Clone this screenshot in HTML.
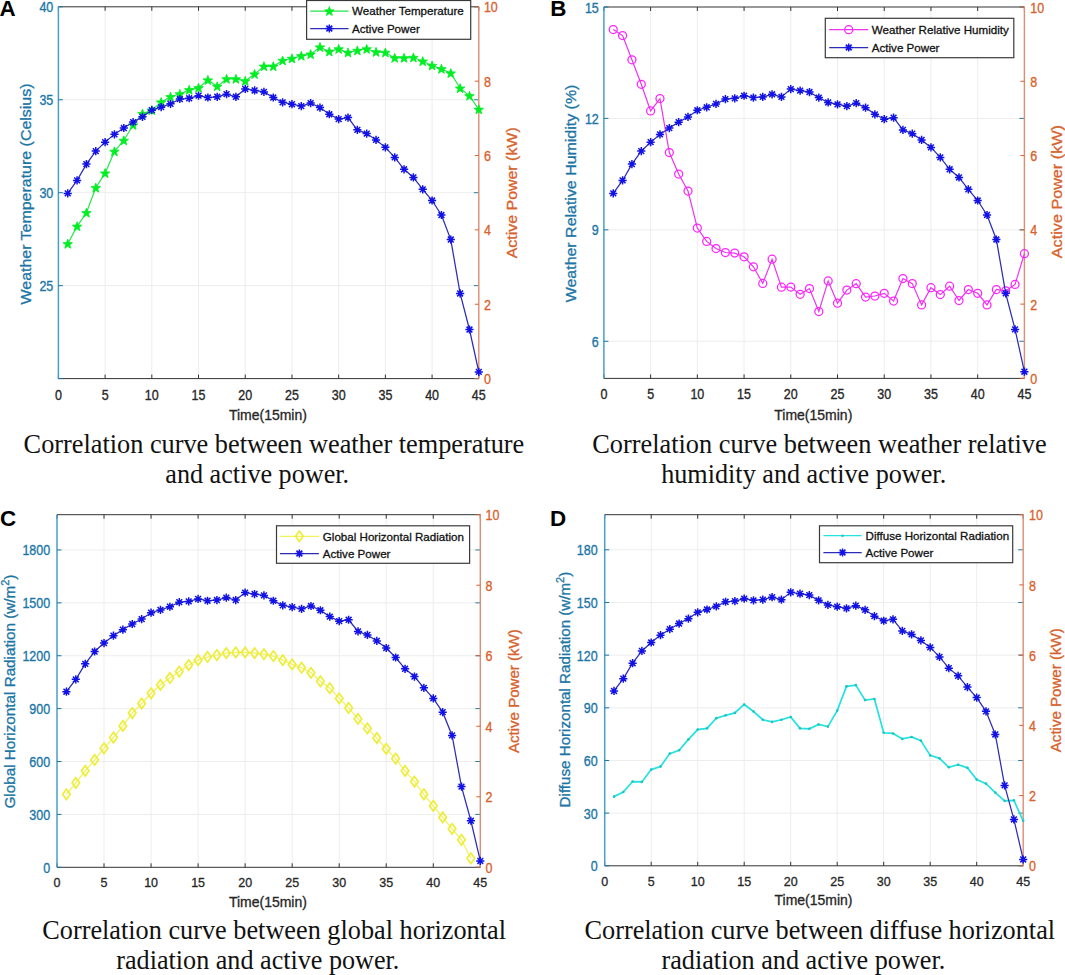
<!DOCTYPE html>
<html><head><meta charset="utf-8"><style>
html,body{margin:0;padding:0;background:#fff;width:1065px;height:975px;overflow:hidden}
svg{display:block}
</style></head><body>
<svg width="1065" height="975" viewBox="0 0 1065 975" font-family='"Liberation Sans", sans-serif'>

<rect width="1065" height="975" fill="#fff"/>
<line x1="105.11" y1="6.80" x2="105.11" y2="378.60" stroke="#ededed" stroke-width="1"/>
<line x1="151.82" y1="6.80" x2="151.82" y2="378.60" stroke="#ededed" stroke-width="1"/>
<line x1="198.53" y1="6.80" x2="198.53" y2="378.60" stroke="#ededed" stroke-width="1"/>
<line x1="245.24" y1="6.80" x2="245.24" y2="378.60" stroke="#ededed" stroke-width="1"/>
<line x1="291.96" y1="6.80" x2="291.96" y2="378.60" stroke="#ededed" stroke-width="1"/>
<line x1="338.67" y1="6.80" x2="338.67" y2="378.60" stroke="#ededed" stroke-width="1"/>
<line x1="385.38" y1="6.80" x2="385.38" y2="378.60" stroke="#ededed" stroke-width="1"/>
<line x1="432.09" y1="6.80" x2="432.09" y2="378.60" stroke="#ededed" stroke-width="1"/>
<line x1="58.40" y1="285.65" x2="478.80" y2="285.65" stroke="#ededed" stroke-width="1"/>
<line x1="58.40" y1="192.70" x2="478.80" y2="192.70" stroke="#ededed" stroke-width="1"/>
<line x1="58.40" y1="99.75" x2="478.80" y2="99.75" stroke="#ededed" stroke-width="1"/>
<line x1="58.40" y1="6.80" x2="478.80" y2="6.80" stroke="#333333" stroke-width="1"/>
<line x1="58.40" y1="378.60" x2="478.80" y2="378.60" stroke="#333333" stroke-width="1"/>
<line x1="58.40" y1="378.60" x2="58.40" y2="374.60" stroke="#333333" stroke-width="1"/>
<line x1="58.40" y1="6.80" x2="58.40" y2="10.80" stroke="#333333" stroke-width="1"/>
<text transform="translate(58.40,399.60) scale(1,1.15)" font-size="12.5" fill="#262626" text-anchor="middle" stroke="#262626" stroke-width="0.3">0</text>
<line x1="105.11" y1="378.60" x2="105.11" y2="374.60" stroke="#333333" stroke-width="1"/>
<line x1="105.11" y1="6.80" x2="105.11" y2="10.80" stroke="#333333" stroke-width="1"/>
<text transform="translate(105.11,399.60) scale(1,1.15)" font-size="12.5" fill="#262626" text-anchor="middle" stroke="#262626" stroke-width="0.3">5</text>
<line x1="151.82" y1="378.60" x2="151.82" y2="374.60" stroke="#333333" stroke-width="1"/>
<line x1="151.82" y1="6.80" x2="151.82" y2="10.80" stroke="#333333" stroke-width="1"/>
<text transform="translate(151.82,399.60) scale(1,1.15)" font-size="12.5" fill="#262626" text-anchor="middle" stroke="#262626" stroke-width="0.3">10</text>
<line x1="198.53" y1="378.60" x2="198.53" y2="374.60" stroke="#333333" stroke-width="1"/>
<line x1="198.53" y1="6.80" x2="198.53" y2="10.80" stroke="#333333" stroke-width="1"/>
<text transform="translate(198.53,399.60) scale(1,1.15)" font-size="12.5" fill="#262626" text-anchor="middle" stroke="#262626" stroke-width="0.3">15</text>
<line x1="245.24" y1="378.60" x2="245.24" y2="374.60" stroke="#333333" stroke-width="1"/>
<line x1="245.24" y1="6.80" x2="245.24" y2="10.80" stroke="#333333" stroke-width="1"/>
<text transform="translate(245.24,399.60) scale(1,1.15)" font-size="12.5" fill="#262626" text-anchor="middle" stroke="#262626" stroke-width="0.3">20</text>
<line x1="291.96" y1="378.60" x2="291.96" y2="374.60" stroke="#333333" stroke-width="1"/>
<line x1="291.96" y1="6.80" x2="291.96" y2="10.80" stroke="#333333" stroke-width="1"/>
<text transform="translate(291.96,399.60) scale(1,1.15)" font-size="12.5" fill="#262626" text-anchor="middle" stroke="#262626" stroke-width="0.3">25</text>
<line x1="338.67" y1="378.60" x2="338.67" y2="374.60" stroke="#333333" stroke-width="1"/>
<line x1="338.67" y1="6.80" x2="338.67" y2="10.80" stroke="#333333" stroke-width="1"/>
<text transform="translate(338.67,399.60) scale(1,1.15)" font-size="12.5" fill="#262626" text-anchor="middle" stroke="#262626" stroke-width="0.3">30</text>
<line x1="385.38" y1="378.60" x2="385.38" y2="374.60" stroke="#333333" stroke-width="1"/>
<line x1="385.38" y1="6.80" x2="385.38" y2="10.80" stroke="#333333" stroke-width="1"/>
<text transform="translate(385.38,399.60) scale(1,1.15)" font-size="12.5" fill="#262626" text-anchor="middle" stroke="#262626" stroke-width="0.3">35</text>
<line x1="432.09" y1="378.60" x2="432.09" y2="374.60" stroke="#333333" stroke-width="1"/>
<line x1="432.09" y1="6.80" x2="432.09" y2="10.80" stroke="#333333" stroke-width="1"/>
<text transform="translate(432.09,399.60) scale(1,1.15)" font-size="12.5" fill="#262626" text-anchor="middle" stroke="#262626" stroke-width="0.3">40</text>
<line x1="478.80" y1="378.60" x2="478.80" y2="374.60" stroke="#333333" stroke-width="1"/>
<line x1="478.80" y1="6.80" x2="478.80" y2="10.80" stroke="#333333" stroke-width="1"/>
<text transform="translate(478.80,399.60) scale(1,1.15)" font-size="12.5" fill="#262626" text-anchor="middle" stroke="#262626" stroke-width="0.3">45</text>
<line x1="58.40" y1="6.80" x2="58.40" y2="378.60" stroke="#4a9ec8" stroke-width="1.5"/>
<line x1="58.40" y1="378.60" x2="62.90" y2="378.60" stroke="#1b76a6" stroke-width="1"/>
<line x1="478.80" y1="378.60" x2="473.80" y2="378.60" stroke="#2a7f9a" stroke-width="1"/>
<line x1="58.40" y1="285.65" x2="62.90" y2="285.65" stroke="#1b76a6" stroke-width="1"/>
<line x1="478.80" y1="285.65" x2="473.80" y2="285.65" stroke="#2a7f9a" stroke-width="1"/>
<text transform="translate(53.30,291.15) scale(1,1.15)" font-size="12.5" fill="#1b76a6" text-anchor="end" stroke="#1b76a6" stroke-width="0.3">25</text>
<line x1="58.40" y1="192.70" x2="62.90" y2="192.70" stroke="#1b76a6" stroke-width="1"/>
<line x1="478.80" y1="192.70" x2="473.80" y2="192.70" stroke="#2a7f9a" stroke-width="1"/>
<text transform="translate(53.30,198.20) scale(1,1.15)" font-size="12.5" fill="#1b76a6" text-anchor="end" stroke="#1b76a6" stroke-width="0.3">30</text>
<line x1="58.40" y1="99.75" x2="62.90" y2="99.75" stroke="#1b76a6" stroke-width="1"/>
<line x1="478.80" y1="99.75" x2="473.80" y2="99.75" stroke="#2a7f9a" stroke-width="1"/>
<text transform="translate(53.30,105.25) scale(1,1.15)" font-size="12.5" fill="#1b76a6" text-anchor="end" stroke="#1b76a6" stroke-width="0.3">35</text>
<line x1="58.40" y1="6.80" x2="62.90" y2="6.80" stroke="#1b76a6" stroke-width="1"/>
<line x1="478.80" y1="6.80" x2="473.80" y2="6.80" stroke="#2a7f9a" stroke-width="1"/>
<text transform="translate(53.30,12.30) scale(1,1.15)" font-size="12.5" fill="#1b76a6" text-anchor="end" stroke="#1b76a6" stroke-width="0.3">40</text>
<line x1="478.80" y1="6.80" x2="478.80" y2="378.60" stroke="#de8c72" stroke-width="1.4"/>
<line x1="478.80" y1="378.60" x2="474.80" y2="378.60" stroke="#d8622c" stroke-width="1"/>
<text transform="translate(483.90,384.20) scale(1,1.13)" font-size="12.5" fill="#d8622c" stroke="#d8622c" stroke-width="0.3">0</text>
<line x1="478.80" y1="304.24" x2="474.80" y2="304.24" stroke="#d8622c" stroke-width="1"/>
<text transform="translate(483.90,309.84) scale(1,1.13)" font-size="12.5" fill="#d8622c" stroke="#d8622c" stroke-width="0.3">2</text>
<line x1="478.80" y1="229.88" x2="474.80" y2="229.88" stroke="#d8622c" stroke-width="1"/>
<text transform="translate(483.90,235.48) scale(1,1.13)" font-size="12.5" fill="#d8622c" stroke="#d8622c" stroke-width="0.3">4</text>
<line x1="478.80" y1="155.52" x2="474.80" y2="155.52" stroke="#d8622c" stroke-width="1"/>
<text transform="translate(483.90,161.12) scale(1,1.13)" font-size="12.5" fill="#d8622c" stroke="#d8622c" stroke-width="0.3">6</text>
<line x1="478.80" y1="81.16" x2="474.80" y2="81.16" stroke="#d8622c" stroke-width="1"/>
<text transform="translate(483.90,86.76) scale(1,1.13)" font-size="12.5" fill="#d8622c" stroke="#d8622c" stroke-width="0.3">8</text>
<line x1="478.80" y1="6.80" x2="474.80" y2="6.80" stroke="#d8622c" stroke-width="1"/>
<text transform="translate(483.90,12.40) scale(1,1.13)" font-size="12.5" fill="#d8622c" stroke="#d8622c" stroke-width="0.3">10</text>
<polyline points="67.74,243.82 77.08,226.35 86.43,212.78 95.77,187.68 105.11,173.18 114.45,151.43 123.80,140.46 133.14,125.03 142.48,113.69 151.82,110.16 161.16,102.17 170.51,96.78 179.85,93.99 189.19,89.90 198.53,87.85 207.88,80.04 217.22,86.37 226.56,78.93 235.90,78.93 245.24,80.97 254.59,74.10 263.93,66.29 273.27,66.29 282.61,60.53 291.96,58.48 301.30,55.88 310.64,54.20 319.98,47.14 329.32,51.60 338.67,49.00 348.01,52.53 357.35,50.49 366.69,49.00 376.04,51.97 385.38,52.53 394.72,57.92 404.06,57.92 413.40,57.55 422.75,61.27 432.09,65.54 441.43,68.89 450.77,73.17 460.12,88.22 469.46,95.85 478.80,109.42" fill="none" stroke="#22e84a" stroke-width="1.2"/>
<polygon points="67.74,239.22 68.98,242.52 72.50,242.68 69.74,244.87 70.68,248.27 67.74,246.32 64.80,248.27 65.75,244.87 62.99,242.68 66.51,242.52" fill="#00ee22" stroke="#00ee22" stroke-width="0.8"/>
<polygon points="77.08,221.75 78.32,225.05 81.84,225.20 79.08,227.40 80.02,230.79 77.08,228.85 74.15,230.79 75.09,227.40 72.33,225.20 75.85,225.05" fill="#00ee22" stroke="#00ee22" stroke-width="0.8"/>
<polygon points="86.43,208.18 87.66,211.48 91.18,211.63 88.42,213.83 89.37,217.22 86.43,215.28 83.49,217.22 84.43,213.83 81.67,211.63 85.19,211.48" fill="#00ee22" stroke="#00ee22" stroke-width="0.8"/>
<polygon points="95.77,183.08 97.00,186.38 100.52,186.54 97.77,188.73 98.71,192.13 95.77,190.18 92.83,192.13 93.77,188.73 91.01,186.54 94.53,186.38" fill="#00ee22" stroke="#00ee22" stroke-width="0.8"/>
<polygon points="105.11,168.58 106.35,171.88 109.87,172.04 107.11,174.23 108.05,177.63 105.11,175.68 102.17,177.63 103.11,174.23 100.36,172.04 103.88,171.88" fill="#00ee22" stroke="#00ee22" stroke-width="0.8"/>
<polygon points="114.45,146.83 115.69,150.13 119.21,150.29 116.45,152.48 117.39,155.88 114.45,153.93 111.51,155.88 112.46,152.48 109.70,150.29 113.22,150.13" fill="#00ee22" stroke="#00ee22" stroke-width="0.8"/>
<polygon points="123.80,135.86 125.03,139.16 128.55,139.32 125.79,141.51 126.73,144.91 123.80,142.96 120.86,144.91 121.80,141.51 119.04,139.32 122.56,139.16" fill="#00ee22" stroke="#00ee22" stroke-width="0.8"/>
<polygon points="133.14,120.43 134.37,123.73 137.89,123.89 135.13,126.08 136.08,129.48 133.14,127.53 130.20,129.48 131.14,126.08 128.38,123.89 131.90,123.73" fill="#00ee22" stroke="#00ee22" stroke-width="0.8"/>
<polygon points="142.48,109.09 143.71,112.39 147.24,112.55 144.48,114.74 145.42,118.14 142.48,116.19 139.54,118.14 140.48,114.74 137.72,112.55 141.25,112.39" fill="#00ee22" stroke="#00ee22" stroke-width="0.8"/>
<polygon points="151.82,105.56 153.06,108.86 156.58,109.02 153.82,111.21 154.76,114.61 151.82,112.66 148.88,114.61 149.83,111.21 147.07,109.02 150.59,108.86" fill="#00ee22" stroke="#00ee22" stroke-width="0.8"/>
<polygon points="161.16,97.57 162.40,100.87 165.92,101.02 163.16,103.22 164.10,106.61 161.16,104.67 158.23,106.61 159.17,103.22 156.41,101.02 159.93,100.87" fill="#00ee22" stroke="#00ee22" stroke-width="0.8"/>
<polygon points="170.51,92.18 171.74,95.48 175.26,95.63 172.50,97.82 173.45,101.22 170.51,99.28 167.57,101.22 168.51,97.82 165.75,95.63 169.27,95.48" fill="#00ee22" stroke="#00ee22" stroke-width="0.8"/>
<polygon points="179.85,89.39 181.08,92.69 184.60,92.84 181.85,95.04 182.79,98.43 179.85,96.49 176.91,98.43 177.85,95.04 175.09,92.84 178.61,92.69" fill="#00ee22" stroke="#00ee22" stroke-width="0.8"/>
<polygon points="189.19,85.30 190.43,88.60 193.95,88.75 191.19,90.95 192.13,94.34 189.19,92.40 186.25,94.34 187.19,90.95 184.44,88.75 187.96,88.60" fill="#00ee22" stroke="#00ee22" stroke-width="0.8"/>
<polygon points="198.53,83.25 199.77,86.55 203.29,86.71 200.53,88.90 201.47,92.30 198.53,90.35 195.59,92.30 196.54,88.90 193.78,86.71 197.30,86.55" fill="#00ee22" stroke="#00ee22" stroke-width="0.8"/>
<polygon points="207.88,75.44 209.11,78.75 212.63,78.90 209.87,81.09 210.81,84.49 207.88,82.54 204.94,84.49 205.88,81.09 203.12,78.90 206.64,78.75" fill="#00ee22" stroke="#00ee22" stroke-width="0.8"/>
<polygon points="217.22,81.77 218.45,85.07 221.97,85.22 219.21,87.41 220.16,90.81 217.22,88.87 214.28,90.81 215.22,87.41 212.46,85.22 215.98,85.07" fill="#00ee22" stroke="#00ee22" stroke-width="0.8"/>
<polygon points="226.56,74.33 227.79,77.63 231.32,77.78 228.56,79.98 229.50,83.37 226.56,81.43 223.62,83.37 224.56,79.98 221.80,77.78 225.33,77.63" fill="#00ee22" stroke="#00ee22" stroke-width="0.8"/>
<polygon points="235.90,74.33 237.14,77.63 240.66,77.78 237.90,79.98 238.84,83.37 235.90,81.43 232.96,83.37 233.91,79.98 231.15,77.78 234.67,77.63" fill="#00ee22" stroke="#00ee22" stroke-width="0.8"/>
<polygon points="245.24,76.37 246.48,79.68 250.00,79.83 247.24,82.02 248.18,85.42 245.24,83.47 242.31,85.42 243.25,82.02 240.49,79.83 244.01,79.68" fill="#00ee22" stroke="#00ee22" stroke-width="0.8"/>
<polygon points="254.59,69.50 255.82,72.80 259.34,72.95 256.58,75.14 257.53,78.54 254.59,76.60 251.65,78.54 252.59,75.14 249.83,72.95 253.35,72.80" fill="#00ee22" stroke="#00ee22" stroke-width="0.8"/>
<polygon points="263.93,61.69 265.16,64.99 268.68,65.14 265.93,67.34 266.87,70.73 263.93,68.79 260.99,70.73 261.93,67.34 259.17,65.14 262.69,64.99" fill="#00ee22" stroke="#00ee22" stroke-width="0.8"/>
<polygon points="273.27,61.69 274.51,64.99 278.03,65.14 275.27,67.34 276.21,70.73 273.27,68.79 270.33,70.73 271.27,67.34 268.52,65.14 272.04,64.99" fill="#00ee22" stroke="#00ee22" stroke-width="0.8"/>
<polygon points="282.61,55.93 283.85,59.23 287.37,59.38 284.61,61.57 285.55,64.97 282.61,63.03 279.67,64.97 280.62,61.57 277.86,59.38 281.38,59.23" fill="#00ee22" stroke="#00ee22" stroke-width="0.8"/>
<polygon points="291.96,53.88 293.19,57.18 296.71,57.34 293.95,59.53 294.89,62.93 291.96,60.98 289.02,62.93 289.96,59.53 287.20,57.34 290.72,57.18" fill="#00ee22" stroke="#00ee22" stroke-width="0.8"/>
<polygon points="301.30,51.28 302.53,54.58 306.05,54.73 303.29,56.93 304.24,60.32 301.30,58.38 298.36,60.32 299.30,56.93 296.54,54.73 300.06,54.58" fill="#00ee22" stroke="#00ee22" stroke-width="0.8"/>
<polygon points="310.64,49.60 311.87,52.91 315.40,53.06 312.64,55.25 313.58,58.65 310.64,56.70 307.70,58.65 308.64,55.25 305.88,53.06 309.41,52.91" fill="#00ee22" stroke="#00ee22" stroke-width="0.8"/>
<polygon points="319.98,42.54 321.22,45.84 324.74,46.00 321.98,48.19 322.92,51.59 319.98,49.64 317.04,51.59 317.99,48.19 315.23,46.00 318.75,45.84" fill="#00ee22" stroke="#00ee22" stroke-width="0.8"/>
<polygon points="329.32,47.00 330.56,50.30 334.08,50.46 331.32,52.65 332.26,56.05 329.32,54.10 326.39,56.05 327.33,52.65 324.57,50.46 328.09,50.30" fill="#00ee22" stroke="#00ee22" stroke-width="0.8"/>
<polygon points="338.67,44.40 339.90,47.70 343.42,47.85 340.66,50.05 341.61,53.44 338.67,51.50 335.73,53.44 336.67,50.05 333.91,47.85 337.43,47.70" fill="#00ee22" stroke="#00ee22" stroke-width="0.8"/>
<polygon points="348.01,47.93 349.24,51.23 352.76,51.39 350.01,53.58 350.95,56.98 348.01,55.03 345.07,56.98 346.01,53.58 343.25,51.39 346.77,51.23" fill="#00ee22" stroke="#00ee22" stroke-width="0.8"/>
<polygon points="357.35,45.89 358.59,49.19 362.11,49.34 359.35,51.54 360.29,54.93 357.35,52.99 354.41,54.93 355.35,51.54 352.60,49.34 356.12,49.19" fill="#00ee22" stroke="#00ee22" stroke-width="0.8"/>
<polygon points="366.69,44.40 367.93,47.70 371.45,47.85 368.69,50.05 369.63,53.44 366.69,51.50 363.75,53.44 364.70,50.05 361.94,47.85 365.46,47.70" fill="#00ee22" stroke="#00ee22" stroke-width="0.8"/>
<polygon points="376.04,47.37 377.27,50.67 380.79,50.83 378.03,53.02 378.97,56.42 376.04,54.47 373.10,56.42 374.04,53.02 371.28,50.83 374.80,50.67" fill="#00ee22" stroke="#00ee22" stroke-width="0.8"/>
<polygon points="385.38,47.93 386.61,51.23 390.13,51.39 387.37,53.58 388.32,56.98 385.38,55.03 382.44,56.98 383.38,53.58 380.62,51.39 384.14,51.23" fill="#00ee22" stroke="#00ee22" stroke-width="0.8"/>
<polygon points="394.72,53.32 395.95,56.62 399.48,56.78 396.72,58.97 397.66,62.37 394.72,60.42 391.78,62.37 392.72,58.97 389.96,56.78 393.49,56.62" fill="#00ee22" stroke="#00ee22" stroke-width="0.8"/>
<polygon points="404.06,53.32 405.30,56.62 408.82,56.78 406.06,58.97 407.00,62.37 404.06,60.42 401.12,62.37 402.07,58.97 399.31,56.78 402.83,56.62" fill="#00ee22" stroke="#00ee22" stroke-width="0.8"/>
<polygon points="413.40,52.95 414.64,56.25 418.16,56.41 415.40,58.60 416.34,62.00 413.40,60.05 410.47,62.00 411.41,58.60 408.65,56.41 412.17,56.25" fill="#00ee22" stroke="#00ee22" stroke-width="0.8"/>
<polygon points="422.75,56.67 423.98,59.97 427.50,60.12 424.74,62.32 425.69,65.71 422.75,63.77 419.81,65.71 420.75,62.32 417.99,60.12 421.51,59.97" fill="#00ee22" stroke="#00ee22" stroke-width="0.8"/>
<polygon points="432.09,60.94 433.32,64.25 436.84,64.40 434.09,66.59 435.03,69.99 432.09,68.04 429.15,69.99 430.09,66.59 427.33,64.40 430.85,64.25" fill="#00ee22" stroke="#00ee22" stroke-width="0.8"/>
<polygon points="441.43,64.29 442.67,67.59 446.19,67.75 443.43,69.94 444.37,73.34 441.43,71.39 438.49,73.34 439.43,69.94 436.68,67.75 440.20,67.59" fill="#00ee22" stroke="#00ee22" stroke-width="0.8"/>
<polygon points="450.77,68.57 452.01,71.87 455.53,72.02 452.77,74.22 453.71,77.61 450.77,75.67 447.83,77.61 448.78,74.22 446.02,72.02 449.54,71.87" fill="#00ee22" stroke="#00ee22" stroke-width="0.8"/>
<polygon points="460.12,83.62 461.35,86.93 464.87,87.08 462.11,89.27 463.05,92.67 460.12,90.72 457.18,92.67 458.12,89.27 455.36,87.08 458.88,86.93" fill="#00ee22" stroke="#00ee22" stroke-width="0.8"/>
<polygon points="469.46,91.25 470.69,94.55 474.21,94.70 471.45,96.90 472.40,100.29 469.46,98.35 466.52,100.29 467.46,96.90 464.70,94.70 468.22,94.55" fill="#00ee22" stroke="#00ee22" stroke-width="0.8"/>
<polygon points="478.80,104.82 480.03,108.12 483.56,108.27 480.80,110.47 481.74,113.86 478.80,111.92 475.86,113.86 476.80,110.47 474.04,108.27 477.57,108.12" fill="#00ee22" stroke="#00ee22" stroke-width="0.8"/>
<polyline points="67.74,193.44 77.08,180.43 86.43,164.07 95.77,151.06 105.11,142.14 114.45,134.33 123.80,128.01 133.14,122.06 142.48,116.85 151.82,110.16 161.16,107.19 170.51,103.84 179.85,99.01 189.19,98.26 198.53,95.66 207.88,97.52 217.22,96.78 226.56,94.17 235.90,96.78 245.24,88.97 254.59,90.45 263.93,91.94 273.27,97.52 282.61,102.35 291.96,104.21 301.30,106.07 310.64,103.10 319.98,107.56 329.32,114.25 338.67,119.08 348.01,117.60 357.35,129.87 366.69,133.58 376.04,139.90 385.38,147.34 394.72,157.38 404.06,169.28 413.40,177.46 422.75,189.35 432.09,200.51 441.43,215.01 450.77,239.55 460.12,293.46 469.46,329.52 478.80,371.91" fill="none" stroke="#2c2cb8" stroke-width="1.25"/>
<path d="M63.64,193.44H71.84M67.74,189.34V197.54M64.84,190.54L70.64,196.34M64.84,196.34L70.64,190.54" stroke="#1212e6" stroke-width="1.5"/>
<path d="M72.98,180.43H81.18M77.08,176.33V184.53M74.19,177.53L79.98,183.33M74.19,183.33L79.98,177.53" stroke="#1212e6" stroke-width="1.5"/>
<path d="M82.33,164.07H90.53M86.43,159.97V168.17M83.53,161.17L89.33,166.97M83.53,166.97L89.33,161.17" stroke="#1212e6" stroke-width="1.5"/>
<path d="M91.67,151.06H99.87M95.77,146.96V155.16M92.87,148.16L98.67,153.96M92.87,153.96L98.67,148.16" stroke="#1212e6" stroke-width="1.5"/>
<path d="M101.01,142.14H109.21M105.11,138.04V146.24M102.21,139.24L108.01,145.03M102.21,145.03L108.01,139.24" stroke="#1212e6" stroke-width="1.5"/>
<path d="M110.35,134.33H118.55M114.45,130.23V138.43M111.55,131.43L117.35,137.23M111.55,137.23L117.35,131.43" stroke="#1212e6" stroke-width="1.5"/>
<path d="M119.70,128.01H127.90M123.80,123.91V132.11M120.90,125.11L126.69,130.91M120.90,130.91L126.69,125.11" stroke="#1212e6" stroke-width="1.5"/>
<path d="M129.04,122.06H137.24M133.14,117.96V126.16M130.24,119.16L136.04,124.96M130.24,124.96L136.04,119.16" stroke="#1212e6" stroke-width="1.5"/>
<path d="M138.38,116.85H146.58M142.48,112.75V120.95M139.58,113.95L145.38,119.75M139.58,119.75L145.38,113.95" stroke="#1212e6" stroke-width="1.5"/>
<path d="M147.72,110.16H155.92M151.82,106.06V114.26M148.92,107.26L154.72,113.06M148.92,113.06L154.72,107.26" stroke="#1212e6" stroke-width="1.5"/>
<path d="M157.06,107.19H165.26M161.16,103.09V111.29M158.27,104.29L164.06,110.09M158.27,110.09L164.06,104.29" stroke="#1212e6" stroke-width="1.5"/>
<path d="M166.41,103.84H174.61M170.51,99.74V107.94M167.61,100.94L173.41,106.74M167.61,106.74L173.41,100.94" stroke="#1212e6" stroke-width="1.5"/>
<path d="M175.75,99.01H183.95M179.85,94.91V103.11M176.95,96.11L182.75,101.91M176.95,101.91L182.75,96.11" stroke="#1212e6" stroke-width="1.5"/>
<path d="M185.09,98.26H193.29M189.19,94.16V102.36M186.29,95.36L192.09,101.16M186.29,101.16L192.09,95.36" stroke="#1212e6" stroke-width="1.5"/>
<path d="M194.43,95.66H202.63M198.53,91.56V99.76M195.63,92.76L201.43,98.56M195.63,98.56L201.43,92.76" stroke="#1212e6" stroke-width="1.5"/>
<path d="M203.78,97.52H211.98M207.88,93.42V101.62M204.98,94.62L210.77,100.42M204.98,100.42L210.77,94.62" stroke="#1212e6" stroke-width="1.5"/>
<path d="M213.12,96.78H221.32M217.22,92.68V100.88M214.32,93.88L220.12,99.67M214.32,99.67L220.12,93.88" stroke="#1212e6" stroke-width="1.5"/>
<path d="M222.46,94.17H230.66M226.56,90.07V98.27M223.66,91.27L229.46,97.07M223.66,97.07L229.46,91.27" stroke="#1212e6" stroke-width="1.5"/>
<path d="M231.80,96.78H240.00M235.90,92.68V100.88M233.00,93.88L238.80,99.67M233.00,99.67L238.80,93.88" stroke="#1212e6" stroke-width="1.5"/>
<path d="M241.14,88.97H249.34M245.24,84.87V93.07M242.35,86.07L248.14,91.87M242.35,91.87L248.14,86.07" stroke="#1212e6" stroke-width="1.5"/>
<path d="M250.49,90.45H258.69M254.59,86.35V94.55M251.69,87.56L257.49,93.35M251.69,93.35L257.49,87.56" stroke="#1212e6" stroke-width="1.5"/>
<path d="M259.83,91.94H268.03M263.93,87.84V96.04M261.03,89.04L266.83,94.84M261.03,94.84L266.83,89.04" stroke="#1212e6" stroke-width="1.5"/>
<path d="M269.17,97.52H277.37M273.27,93.42V101.62M270.37,94.62L276.17,100.42M270.37,100.42L276.17,94.62" stroke="#1212e6" stroke-width="1.5"/>
<path d="M278.51,102.35H286.71M282.61,98.25V106.45M279.71,99.45L285.51,105.25M279.71,105.25L285.51,99.45" stroke="#1212e6" stroke-width="1.5"/>
<path d="M287.86,104.21H296.06M291.96,100.11V108.31M289.06,101.31L294.85,107.11M289.06,107.11L294.85,101.31" stroke="#1212e6" stroke-width="1.5"/>
<path d="M297.20,106.07H305.40M301.30,101.97V110.17M298.40,103.17L304.20,108.97M298.40,108.97L304.20,103.17" stroke="#1212e6" stroke-width="1.5"/>
<path d="M306.54,103.10H314.74M310.64,99.00V107.20M307.74,100.20L313.54,106.00M307.74,106.00L313.54,100.20" stroke="#1212e6" stroke-width="1.5"/>
<path d="M315.88,107.56H324.08M319.98,103.46V111.66M317.08,104.66L322.88,110.46M317.08,110.46L322.88,104.66" stroke="#1212e6" stroke-width="1.5"/>
<path d="M325.22,114.25H333.42M329.32,110.15V118.35M326.43,111.35L332.22,117.15M326.43,117.15L332.22,111.35" stroke="#1212e6" stroke-width="1.5"/>
<path d="M334.57,119.08H342.77M338.67,114.98V123.18M335.77,116.18L341.57,121.98M335.77,121.98L341.57,116.18" stroke="#1212e6" stroke-width="1.5"/>
<path d="M343.91,117.60H352.11M348.01,113.50V121.70M345.11,114.70L350.91,120.50M345.11,120.50L350.91,114.70" stroke="#1212e6" stroke-width="1.5"/>
<path d="M353.25,129.87H361.45M357.35,125.77V133.97M354.45,126.97L360.25,132.76M354.45,132.76L360.25,126.97" stroke="#1212e6" stroke-width="1.5"/>
<path d="M362.59,133.58H370.79M366.69,129.48V137.68M363.79,130.68L369.59,136.48M363.79,136.48L369.59,130.68" stroke="#1212e6" stroke-width="1.5"/>
<path d="M371.94,139.90H380.14M376.04,135.80V144.00M373.14,137.01L378.93,142.80M373.14,142.80L378.93,137.01" stroke="#1212e6" stroke-width="1.5"/>
<path d="M381.28,147.34H389.48M385.38,143.24V151.44M382.48,144.44L388.28,150.24M382.48,150.24L388.28,144.44" stroke="#1212e6" stroke-width="1.5"/>
<path d="M390.62,157.38H398.82M394.72,153.28V161.48M391.82,154.48L397.62,160.28M391.82,160.28L397.62,154.48" stroke="#1212e6" stroke-width="1.5"/>
<path d="M399.96,169.28H408.16M404.06,165.18V173.38M401.16,166.38L406.96,172.18M401.16,172.18L406.96,166.38" stroke="#1212e6" stroke-width="1.5"/>
<path d="M409.30,177.46H417.50M413.40,173.36V181.56M410.51,174.56L416.30,180.36M410.51,180.36L416.30,174.56" stroke="#1212e6" stroke-width="1.5"/>
<path d="M418.65,189.35H426.85M422.75,185.25V193.45M419.85,186.45L425.65,192.25M419.85,192.25L425.65,186.45" stroke="#1212e6" stroke-width="1.5"/>
<path d="M427.99,200.51H436.19M432.09,196.41V204.61M429.19,197.61L434.99,203.41M429.19,203.41L434.99,197.61" stroke="#1212e6" stroke-width="1.5"/>
<path d="M437.33,215.01H445.53M441.43,210.91V219.11M438.53,212.11L444.33,217.91M438.53,217.91L444.33,212.11" stroke="#1212e6" stroke-width="1.5"/>
<path d="M446.67,239.55H454.87M450.77,235.45V243.65M447.87,236.65L453.67,242.45M447.87,242.45L453.67,236.65" stroke="#1212e6" stroke-width="1.5"/>
<path d="M456.02,293.46H464.22M460.12,289.36V297.56M457.22,290.56L463.01,296.36M457.22,296.36L463.01,290.56" stroke="#1212e6" stroke-width="1.5"/>
<path d="M465.36,329.52H473.56M469.46,325.42V333.62M466.56,326.62L472.36,332.42M466.56,332.42L472.36,326.62" stroke="#1212e6" stroke-width="1.5"/>
<path d="M474.70,371.91H482.90M478.80,367.81V376.01M475.90,369.01L481.70,374.81M475.90,374.81L481.70,369.01" stroke="#1212e6" stroke-width="1.5"/>
<rect x="306.60" y="0.50" width="164.10" height="38.80" fill="#ffffff" stroke="#3a3a3a" stroke-width="1.2"/>
<line x1="310.20" y1="11.10" x2="348.50" y2="11.10" stroke="#22e84a" stroke-width="1.2"/>
<polygon points="329.35,6.50 330.58,9.80 334.11,9.95 331.35,12.15 332.29,15.55 329.35,13.60 326.41,15.55 327.35,12.15 324.59,9.95 328.12,9.80" fill="#00ee22" stroke="#00ee22" stroke-width="0.8"/>
<line x1="310.20" y1="28.50" x2="348.50" y2="28.50" stroke="#2c2cb8" stroke-width="1.25"/>
<path d="M325.25,28.50H333.45M329.35,24.40V32.60M326.45,25.60L332.25,31.40M326.45,31.40L332.25,25.60" stroke="#1212e6" stroke-width="1.5"/>
<text x="352.10" y="15.30" font-size="11.6" fill="#111" stroke="#111" stroke-width="0.3">Weather Temperature</text>
<text x="352.10" y="32.70" font-size="11.6" fill="#111" stroke="#111" stroke-width="0.3">Active Power</text>
<text transform="translate(267.90,420.20) scale(1,1.08)" font-size="14" fill="#262626" text-anchor="middle" stroke="#262626" stroke-width="0.3">Time(15min)</text>
<text transform="translate(30.80,194.00) rotate(-90)" font-size="14" fill="#1b76a6" text-anchor="middle" textLength="221.00" lengthAdjust="spacingAndGlyphs" stroke="#1b76a6" stroke-width="0.3">Weather Temperature (Celsius)</text>
<text transform="translate(516.80,192.80) rotate(-90)" font-size="14" fill="#d8622c" text-anchor="middle" textLength="131.00" lengthAdjust="spacingAndGlyphs" stroke="#d8622c" stroke-width="0.3">Active Power (kW)</text>
<text x="-0.60" y="16.20" font-size="22.4" font-weight="bold" fill="#000">A</text>
<text x="23.60" y="452.90" font-family='"Liberation Serif", serif' font-size="26.3" fill="#111" textLength="500.70" lengthAdjust="spacingAndGlyphs">Correlation curve between weather temperature</text>
<text x="165.30" y="483.30" font-family='"Liberation Serif", serif' font-size="26.3" fill="#111" textLength="183.80" lengthAdjust="spacingAndGlyphs">and active power.</text>
<line x1="650.62" y1="7.00" x2="650.62" y2="378.40" stroke="#ededed" stroke-width="1"/>
<line x1="697.34" y1="7.00" x2="697.34" y2="378.40" stroke="#ededed" stroke-width="1"/>
<line x1="744.07" y1="7.00" x2="744.07" y2="378.40" stroke="#ededed" stroke-width="1"/>
<line x1="790.79" y1="7.00" x2="790.79" y2="378.40" stroke="#ededed" stroke-width="1"/>
<line x1="837.51" y1="7.00" x2="837.51" y2="378.40" stroke="#ededed" stroke-width="1"/>
<line x1="884.23" y1="7.00" x2="884.23" y2="378.40" stroke="#ededed" stroke-width="1"/>
<line x1="930.96" y1="7.00" x2="930.96" y2="378.40" stroke="#ededed" stroke-width="1"/>
<line x1="977.68" y1="7.00" x2="977.68" y2="378.40" stroke="#ededed" stroke-width="1"/>
<line x1="603.90" y1="341.26" x2="1024.40" y2="341.26" stroke="#ededed" stroke-width="1"/>
<line x1="603.90" y1="229.84" x2="1024.40" y2="229.84" stroke="#ededed" stroke-width="1"/>
<line x1="603.90" y1="118.42" x2="1024.40" y2="118.42" stroke="#ededed" stroke-width="1"/>
<line x1="603.90" y1="7.00" x2="1024.40" y2="7.00" stroke="#333333" stroke-width="1"/>
<line x1="603.90" y1="378.40" x2="1024.40" y2="378.40" stroke="#333333" stroke-width="1"/>
<line x1="603.90" y1="378.40" x2="603.90" y2="374.40" stroke="#333333" stroke-width="1"/>
<line x1="603.90" y1="7.00" x2="603.90" y2="11.00" stroke="#333333" stroke-width="1"/>
<text transform="translate(603.90,399.40) scale(1,1.15)" font-size="12.5" fill="#262626" text-anchor="middle" stroke="#262626" stroke-width="0.3">0</text>
<line x1="650.62" y1="378.40" x2="650.62" y2="374.40" stroke="#333333" stroke-width="1"/>
<line x1="650.62" y1="7.00" x2="650.62" y2="11.00" stroke="#333333" stroke-width="1"/>
<text transform="translate(650.62,399.40) scale(1,1.15)" font-size="12.5" fill="#262626" text-anchor="middle" stroke="#262626" stroke-width="0.3">5</text>
<line x1="697.34" y1="378.40" x2="697.34" y2="374.40" stroke="#333333" stroke-width="1"/>
<line x1="697.34" y1="7.00" x2="697.34" y2="11.00" stroke="#333333" stroke-width="1"/>
<text transform="translate(697.34,399.40) scale(1,1.15)" font-size="12.5" fill="#262626" text-anchor="middle" stroke="#262626" stroke-width="0.3">10</text>
<line x1="744.07" y1="378.40" x2="744.07" y2="374.40" stroke="#333333" stroke-width="1"/>
<line x1="744.07" y1="7.00" x2="744.07" y2="11.00" stroke="#333333" stroke-width="1"/>
<text transform="translate(744.07,399.40) scale(1,1.15)" font-size="12.5" fill="#262626" text-anchor="middle" stroke="#262626" stroke-width="0.3">15</text>
<line x1="790.79" y1="378.40" x2="790.79" y2="374.40" stroke="#333333" stroke-width="1"/>
<line x1="790.79" y1="7.00" x2="790.79" y2="11.00" stroke="#333333" stroke-width="1"/>
<text transform="translate(790.79,399.40) scale(1,1.15)" font-size="12.5" fill="#262626" text-anchor="middle" stroke="#262626" stroke-width="0.3">20</text>
<line x1="837.51" y1="378.40" x2="837.51" y2="374.40" stroke="#333333" stroke-width="1"/>
<line x1="837.51" y1="7.00" x2="837.51" y2="11.00" stroke="#333333" stroke-width="1"/>
<text transform="translate(837.51,399.40) scale(1,1.15)" font-size="12.5" fill="#262626" text-anchor="middle" stroke="#262626" stroke-width="0.3">25</text>
<line x1="884.23" y1="378.40" x2="884.23" y2="374.40" stroke="#333333" stroke-width="1"/>
<line x1="884.23" y1="7.00" x2="884.23" y2="11.00" stroke="#333333" stroke-width="1"/>
<text transform="translate(884.23,399.40) scale(1,1.15)" font-size="12.5" fill="#262626" text-anchor="middle" stroke="#262626" stroke-width="0.3">30</text>
<line x1="930.96" y1="378.40" x2="930.96" y2="374.40" stroke="#333333" stroke-width="1"/>
<line x1="930.96" y1="7.00" x2="930.96" y2="11.00" stroke="#333333" stroke-width="1"/>
<text transform="translate(930.96,399.40) scale(1,1.15)" font-size="12.5" fill="#262626" text-anchor="middle" stroke="#262626" stroke-width="0.3">35</text>
<line x1="977.68" y1="378.40" x2="977.68" y2="374.40" stroke="#333333" stroke-width="1"/>
<line x1="977.68" y1="7.00" x2="977.68" y2="11.00" stroke="#333333" stroke-width="1"/>
<text transform="translate(977.68,399.40) scale(1,1.15)" font-size="12.5" fill="#262626" text-anchor="middle" stroke="#262626" stroke-width="0.3">40</text>
<line x1="1024.40" y1="378.40" x2="1024.40" y2="374.40" stroke="#333333" stroke-width="1"/>
<line x1="1024.40" y1="7.00" x2="1024.40" y2="11.00" stroke="#333333" stroke-width="1"/>
<text transform="translate(1024.40,399.40) scale(1,1.15)" font-size="12.5" fill="#262626" text-anchor="middle" stroke="#262626" stroke-width="0.3">45</text>
<line x1="603.90" y1="7.00" x2="603.90" y2="378.40" stroke="#4a9ec8" stroke-width="1.5"/>
<line x1="603.90" y1="341.26" x2="608.40" y2="341.26" stroke="#1b76a6" stroke-width="1"/>
<line x1="1024.40" y1="341.26" x2="1019.40" y2="341.26" stroke="#2a7f9a" stroke-width="1"/>
<text transform="translate(598.80,346.76) scale(1,1.15)" font-size="12.5" fill="#1b76a6" text-anchor="end" stroke="#1b76a6" stroke-width="0.3">6</text>
<line x1="603.90" y1="229.84" x2="608.40" y2="229.84" stroke="#1b76a6" stroke-width="1"/>
<line x1="1024.40" y1="229.84" x2="1019.40" y2="229.84" stroke="#2a7f9a" stroke-width="1"/>
<text transform="translate(598.80,235.34) scale(1,1.15)" font-size="12.5" fill="#1b76a6" text-anchor="end" stroke="#1b76a6" stroke-width="0.3">9</text>
<line x1="603.90" y1="118.42" x2="608.40" y2="118.42" stroke="#1b76a6" stroke-width="1"/>
<line x1="1024.40" y1="118.42" x2="1019.40" y2="118.42" stroke="#2a7f9a" stroke-width="1"/>
<text transform="translate(598.80,123.92) scale(1,1.15)" font-size="12.5" fill="#1b76a6" text-anchor="end" stroke="#1b76a6" stroke-width="0.3">12</text>
<line x1="603.90" y1="7.00" x2="608.40" y2="7.00" stroke="#1b76a6" stroke-width="1"/>
<line x1="1024.40" y1="7.00" x2="1019.40" y2="7.00" stroke="#2a7f9a" stroke-width="1"/>
<text transform="translate(598.80,12.50) scale(1,1.15)" font-size="12.5" fill="#1b76a6" text-anchor="end" stroke="#1b76a6" stroke-width="0.3">15</text>
<line x1="1024.40" y1="7.00" x2="1024.40" y2="378.40" stroke="#de8c72" stroke-width="1.4"/>
<line x1="1024.40" y1="378.40" x2="1020.40" y2="378.40" stroke="#d8622c" stroke-width="1"/>
<text transform="translate(1030.30,384.00) scale(1,1.13)" font-size="12.5" fill="#d8622c" stroke="#d8622c" stroke-width="0.3">0</text>
<line x1="1024.40" y1="304.12" x2="1020.40" y2="304.12" stroke="#d8622c" stroke-width="1"/>
<text transform="translate(1030.30,309.72) scale(1,1.13)" font-size="12.5" fill="#d8622c" stroke="#d8622c" stroke-width="0.3">2</text>
<line x1="1024.40" y1="229.84" x2="1020.40" y2="229.84" stroke="#d8622c" stroke-width="1"/>
<text transform="translate(1030.30,235.44) scale(1,1.13)" font-size="12.5" fill="#d8622c" stroke="#d8622c" stroke-width="0.3">4</text>
<line x1="1024.40" y1="155.56" x2="1020.40" y2="155.56" stroke="#d8622c" stroke-width="1"/>
<text transform="translate(1030.30,161.16) scale(1,1.13)" font-size="12.5" fill="#d8622c" stroke="#d8622c" stroke-width="0.3">6</text>
<line x1="1024.40" y1="81.28" x2="1020.40" y2="81.28" stroke="#d8622c" stroke-width="1"/>
<text transform="translate(1030.30,86.88) scale(1,1.13)" font-size="12.5" fill="#d8622c" stroke="#d8622c" stroke-width="0.3">8</text>
<line x1="1024.40" y1="7.00" x2="1020.40" y2="7.00" stroke="#d8622c" stroke-width="1"/>
<text transform="translate(1030.30,12.60) scale(1,1.13)" font-size="12.5" fill="#d8622c" stroke="#d8622c" stroke-width="0.3">10</text>
<polyline points="613.24,29.50 622.59,35.60 631.93,59.80 641.28,84.30 650.62,110.90 659.97,98.60 669.31,152.60 678.66,174.10 688.00,191.00 697.34,228.10 706.69,241.40 716.03,248.60 725.38,252.50 734.72,253.10 744.07,256.80 753.41,266.80 762.76,283.40 772.10,259.20 781.44,287.20 790.79,287.10 800.13,294.30 809.48,288.60 818.82,311.50 828.17,280.90 837.51,303.20 846.86,290.10 856.20,283.70 865.54,297.00 874.89,296.00 884.23,293.30 893.58,301.00 902.92,278.50 912.27,283.60 921.61,304.90 930.96,287.70 940.30,294.60 949.64,286.20 958.99,300.50 968.33,289.50 977.68,293.30 987.02,304.90 996.37,289.50 1005.71,290.80 1015.06,284.40 1024.40,253.70" fill="none" stroke="#ee33ee" stroke-width="1.2"/>
<circle cx="613.24" cy="29.50" r="4.0" fill="none" stroke="#ff22ff" stroke-width="1.25"/>
<circle cx="622.59" cy="35.60" r="4.0" fill="none" stroke="#ff22ff" stroke-width="1.25"/>
<circle cx="631.93" cy="59.80" r="4.0" fill="none" stroke="#ff22ff" stroke-width="1.25"/>
<circle cx="641.28" cy="84.30" r="4.0" fill="none" stroke="#ff22ff" stroke-width="1.25"/>
<circle cx="650.62" cy="110.90" r="4.0" fill="none" stroke="#ff22ff" stroke-width="1.25"/>
<circle cx="659.97" cy="98.60" r="4.0" fill="none" stroke="#ff22ff" stroke-width="1.25"/>
<circle cx="669.31" cy="152.60" r="4.0" fill="none" stroke="#ff22ff" stroke-width="1.25"/>
<circle cx="678.66" cy="174.10" r="4.0" fill="none" stroke="#ff22ff" stroke-width="1.25"/>
<circle cx="688.00" cy="191.00" r="4.0" fill="none" stroke="#ff22ff" stroke-width="1.25"/>
<circle cx="697.34" cy="228.10" r="4.0" fill="none" stroke="#ff22ff" stroke-width="1.25"/>
<circle cx="706.69" cy="241.40" r="4.0" fill="none" stroke="#ff22ff" stroke-width="1.25"/>
<circle cx="716.03" cy="248.60" r="4.0" fill="none" stroke="#ff22ff" stroke-width="1.25"/>
<circle cx="725.38" cy="252.50" r="4.0" fill="none" stroke="#ff22ff" stroke-width="1.25"/>
<circle cx="734.72" cy="253.10" r="4.0" fill="none" stroke="#ff22ff" stroke-width="1.25"/>
<circle cx="744.07" cy="256.80" r="4.0" fill="none" stroke="#ff22ff" stroke-width="1.25"/>
<circle cx="753.41" cy="266.80" r="4.0" fill="none" stroke="#ff22ff" stroke-width="1.25"/>
<circle cx="762.76" cy="283.40" r="4.0" fill="none" stroke="#ff22ff" stroke-width="1.25"/>
<circle cx="772.10" cy="259.20" r="4.0" fill="none" stroke="#ff22ff" stroke-width="1.25"/>
<circle cx="781.44" cy="287.20" r="4.0" fill="none" stroke="#ff22ff" stroke-width="1.25"/>
<circle cx="790.79" cy="287.10" r="4.0" fill="none" stroke="#ff22ff" stroke-width="1.25"/>
<circle cx="800.13" cy="294.30" r="4.0" fill="none" stroke="#ff22ff" stroke-width="1.25"/>
<circle cx="809.48" cy="288.60" r="4.0" fill="none" stroke="#ff22ff" stroke-width="1.25"/>
<circle cx="818.82" cy="311.50" r="4.0" fill="none" stroke="#ff22ff" stroke-width="1.25"/>
<circle cx="828.17" cy="280.90" r="4.0" fill="none" stroke="#ff22ff" stroke-width="1.25"/>
<circle cx="837.51" cy="303.20" r="4.0" fill="none" stroke="#ff22ff" stroke-width="1.25"/>
<circle cx="846.86" cy="290.10" r="4.0" fill="none" stroke="#ff22ff" stroke-width="1.25"/>
<circle cx="856.20" cy="283.70" r="4.0" fill="none" stroke="#ff22ff" stroke-width="1.25"/>
<circle cx="865.54" cy="297.00" r="4.0" fill="none" stroke="#ff22ff" stroke-width="1.25"/>
<circle cx="874.89" cy="296.00" r="4.0" fill="none" stroke="#ff22ff" stroke-width="1.25"/>
<circle cx="884.23" cy="293.30" r="4.0" fill="none" stroke="#ff22ff" stroke-width="1.25"/>
<circle cx="893.58" cy="301.00" r="4.0" fill="none" stroke="#ff22ff" stroke-width="1.25"/>
<circle cx="902.92" cy="278.50" r="4.0" fill="none" stroke="#ff22ff" stroke-width="1.25"/>
<circle cx="912.27" cy="283.60" r="4.0" fill="none" stroke="#ff22ff" stroke-width="1.25"/>
<circle cx="921.61" cy="304.90" r="4.0" fill="none" stroke="#ff22ff" stroke-width="1.25"/>
<circle cx="930.96" cy="287.70" r="4.0" fill="none" stroke="#ff22ff" stroke-width="1.25"/>
<circle cx="940.30" cy="294.60" r="4.0" fill="none" stroke="#ff22ff" stroke-width="1.25"/>
<circle cx="949.64" cy="286.20" r="4.0" fill="none" stroke="#ff22ff" stroke-width="1.25"/>
<circle cx="958.99" cy="300.50" r="4.0" fill="none" stroke="#ff22ff" stroke-width="1.25"/>
<circle cx="968.33" cy="289.50" r="4.0" fill="none" stroke="#ff22ff" stroke-width="1.25"/>
<circle cx="977.68" cy="293.30" r="4.0" fill="none" stroke="#ff22ff" stroke-width="1.25"/>
<circle cx="987.02" cy="304.90" r="4.0" fill="none" stroke="#ff22ff" stroke-width="1.25"/>
<circle cx="996.37" cy="289.50" r="4.0" fill="none" stroke="#ff22ff" stroke-width="1.25"/>
<circle cx="1005.71" cy="290.80" r="4.0" fill="none" stroke="#ff22ff" stroke-width="1.25"/>
<circle cx="1015.06" cy="284.40" r="4.0" fill="none" stroke="#ff22ff" stroke-width="1.25"/>
<circle cx="1024.40" cy="253.70" r="4.0" fill="none" stroke="#ff22ff" stroke-width="1.25"/>
<polyline points="613.24,193.44 622.59,180.44 631.93,164.10 641.28,151.10 650.62,142.19 659.97,134.39 669.31,128.08 678.66,122.13 688.00,116.93 697.34,110.25 706.69,107.28 716.03,103.94 725.38,99.11 734.72,98.36 744.07,95.76 753.41,97.62 762.76,96.88 772.10,94.28 781.44,96.88 790.79,89.08 800.13,90.56 809.48,92.05 818.82,97.62 828.17,102.45 837.51,104.31 846.86,106.16 856.20,103.19 865.54,107.65 874.89,114.33 884.23,119.16 893.58,117.68 902.92,129.93 912.27,133.65 921.61,139.96 930.96,147.39 940.30,157.42 949.64,169.30 958.99,177.47 968.33,189.36 977.68,200.50 987.02,214.98 996.37,239.50 1005.71,293.35 1015.06,329.38 1024.40,371.71" fill="none" stroke="#2c2cb8" stroke-width="1.25"/>
<path d="M609.14,193.44H617.34M613.24,189.34V197.54M610.35,190.54L616.14,196.34M610.35,196.34L616.14,190.54" stroke="#1212e6" stroke-width="1.5"/>
<path d="M618.49,180.44H626.69M622.59,176.34V184.54M619.69,177.54L625.49,183.34M619.69,183.34L625.49,177.54" stroke="#1212e6" stroke-width="1.5"/>
<path d="M627.83,164.10H636.03M631.93,160.00V168.20M629.03,161.20L634.83,167.00M629.03,167.00L634.83,161.20" stroke="#1212e6" stroke-width="1.5"/>
<path d="M637.18,151.10H645.38M641.28,147.00V155.20M638.38,148.20L644.18,154.00M638.38,154.00L644.18,148.20" stroke="#1212e6" stroke-width="1.5"/>
<path d="M646.52,142.19H654.72M650.62,138.09V146.29M647.72,139.29L653.52,145.09M647.72,145.09L653.52,139.29" stroke="#1212e6" stroke-width="1.5"/>
<path d="M655.87,134.39H664.07M659.97,130.29V138.49M657.07,131.49L662.87,137.29M657.07,137.29L662.87,131.49" stroke="#1212e6" stroke-width="1.5"/>
<path d="M665.21,128.08H673.41M669.31,123.98V132.18M666.41,125.18L672.21,130.98M666.41,130.98L672.21,125.18" stroke="#1212e6" stroke-width="1.5"/>
<path d="M674.56,122.13H682.76M678.66,118.03V126.23M675.76,119.23L681.55,125.03M675.76,125.03L681.55,119.23" stroke="#1212e6" stroke-width="1.5"/>
<path d="M683.90,116.93H692.10M688.00,112.83V121.03M685.10,114.04L690.90,119.83M685.10,119.83L690.90,114.04" stroke="#1212e6" stroke-width="1.5"/>
<path d="M693.24,110.25H701.44M697.34,106.15V114.35M694.45,107.35L700.24,113.15M694.45,113.15L700.24,107.35" stroke="#1212e6" stroke-width="1.5"/>
<path d="M702.59,107.28H710.79M706.69,103.18V111.38M703.79,104.38L709.59,110.18M703.79,110.18L709.59,104.38" stroke="#1212e6" stroke-width="1.5"/>
<path d="M711.93,103.94H720.13M716.03,99.84V108.04M713.13,101.04L718.93,106.83M713.13,106.83L718.93,101.04" stroke="#1212e6" stroke-width="1.5"/>
<path d="M721.28,99.11H729.48M725.38,95.01V103.21M722.48,96.21L728.28,102.01M722.48,102.01L728.28,96.21" stroke="#1212e6" stroke-width="1.5"/>
<path d="M730.62,98.36H738.82M734.72,94.26V102.46M731.82,95.47L737.62,101.26M731.82,101.26L737.62,95.47" stroke="#1212e6" stroke-width="1.5"/>
<path d="M739.97,95.76H748.17M744.07,91.66V99.86M741.17,92.87L746.97,98.66M741.17,98.66L746.97,92.87" stroke="#1212e6" stroke-width="1.5"/>
<path d="M749.31,97.62H757.51M753.41,93.52V101.72M750.51,94.72L756.31,100.52M750.51,100.52L756.31,94.72" stroke="#1212e6" stroke-width="1.5"/>
<path d="M758.66,96.88H766.86M762.76,92.78V100.98M759.86,93.98L765.65,99.78M759.86,99.78L765.65,93.98" stroke="#1212e6" stroke-width="1.5"/>
<path d="M768.00,94.28H776.20M772.10,90.18V98.38M769.20,91.38L775.00,97.18M769.20,97.18L775.00,91.38" stroke="#1212e6" stroke-width="1.5"/>
<path d="M777.34,96.88H785.54M781.44,92.78V100.98M778.55,93.98L784.34,99.78M778.55,99.78L784.34,93.98" stroke="#1212e6" stroke-width="1.5"/>
<path d="M786.69,89.08H794.89M790.79,84.98V93.18M787.89,86.18L793.69,91.98M787.89,91.98L793.69,86.18" stroke="#1212e6" stroke-width="1.5"/>
<path d="M796.03,90.56H804.23M800.13,86.47V94.66M797.23,87.67L803.03,93.46M797.23,93.46L803.03,87.67" stroke="#1212e6" stroke-width="1.5"/>
<path d="M805.38,92.05H813.58M809.48,87.95V96.15M806.58,89.15L812.38,94.95M806.58,94.95L812.38,89.15" stroke="#1212e6" stroke-width="1.5"/>
<path d="M814.72,97.62H822.92M818.82,93.52V101.72M815.92,94.72L821.72,100.52M815.92,100.52L821.72,94.72" stroke="#1212e6" stroke-width="1.5"/>
<path d="M824.07,102.45H832.27M828.17,98.35V106.55M825.27,99.55L831.07,105.35M825.27,105.35L831.07,99.55" stroke="#1212e6" stroke-width="1.5"/>
<path d="M833.41,104.31H841.61M837.51,100.21V108.41M834.61,101.41L840.41,107.21M834.61,107.21L840.41,101.41" stroke="#1212e6" stroke-width="1.5"/>
<path d="M842.76,106.16H850.96M846.86,102.06V110.26M843.96,103.26L849.75,109.06M843.96,109.06L849.75,103.26" stroke="#1212e6" stroke-width="1.5"/>
<path d="M852.10,103.19H860.30M856.20,99.09V107.29M853.30,100.29L859.10,106.09M853.30,106.09L859.10,100.29" stroke="#1212e6" stroke-width="1.5"/>
<path d="M861.44,107.65H869.64M865.54,103.55V111.75M862.65,104.75L868.44,110.55M862.65,110.55L868.44,104.75" stroke="#1212e6" stroke-width="1.5"/>
<path d="M870.79,114.33H878.99M874.89,110.23V118.43M871.99,111.44L877.79,117.23M871.99,117.23L877.79,111.44" stroke="#1212e6" stroke-width="1.5"/>
<path d="M880.13,119.16H888.33M884.23,115.06V123.26M881.33,116.26L887.13,122.06M881.33,122.06L887.13,116.26" stroke="#1212e6" stroke-width="1.5"/>
<path d="M889.48,117.68H897.68M893.58,113.58V121.78M890.68,114.78L896.48,120.58M890.68,120.58L896.48,114.78" stroke="#1212e6" stroke-width="1.5"/>
<path d="M898.82,129.93H907.02M902.92,125.83V134.03M900.02,127.03L905.82,132.83M900.02,132.83L905.82,127.03" stroke="#1212e6" stroke-width="1.5"/>
<path d="M908.17,133.65H916.37M912.27,129.55V137.75M909.37,130.75L915.17,136.55M909.37,136.55L915.17,130.75" stroke="#1212e6" stroke-width="1.5"/>
<path d="M917.51,139.96H925.71M921.61,135.86V144.06M918.71,137.06L924.51,142.86M918.71,142.86L924.51,137.06" stroke="#1212e6" stroke-width="1.5"/>
<path d="M926.86,147.39H935.06M930.96,143.29V151.49M928.06,144.49L933.85,150.29M928.06,150.29L933.85,144.49" stroke="#1212e6" stroke-width="1.5"/>
<path d="M936.20,157.42H944.40M940.30,153.32V161.52M937.40,154.52L943.20,160.32M937.40,160.32L943.20,154.52" stroke="#1212e6" stroke-width="1.5"/>
<path d="M945.54,169.30H953.74M949.64,165.20V173.40M946.75,166.40L952.54,172.20M946.75,172.20L952.54,166.40" stroke="#1212e6" stroke-width="1.5"/>
<path d="M954.89,177.47H963.09M958.99,173.37V181.57M956.09,174.57L961.89,180.37M956.09,180.37L961.89,174.57" stroke="#1212e6" stroke-width="1.5"/>
<path d="M964.23,189.36H972.43M968.33,185.26V193.46M965.43,186.46L971.23,192.26M965.43,192.26L971.23,186.46" stroke="#1212e6" stroke-width="1.5"/>
<path d="M973.58,200.50H981.78M977.68,196.40V204.60M974.78,197.60L980.58,203.40M974.78,203.40L980.58,197.60" stroke="#1212e6" stroke-width="1.5"/>
<path d="M982.92,214.98H991.12M987.02,210.88V219.08M984.12,212.08L989.92,217.88M984.12,217.88L989.92,212.08" stroke="#1212e6" stroke-width="1.5"/>
<path d="M992.27,239.50H1000.47M996.37,235.40V243.60M993.47,236.60L999.27,242.40M993.47,242.40L999.27,236.60" stroke="#1212e6" stroke-width="1.5"/>
<path d="M1001.61,293.35H1009.81M1005.71,289.25V297.45M1002.81,290.45L1008.61,296.25M1002.81,296.25L1008.61,290.45" stroke="#1212e6" stroke-width="1.5"/>
<path d="M1010.96,329.38H1019.16M1015.06,325.28V333.48M1012.16,326.48L1017.95,332.27M1012.16,332.27L1017.95,326.48" stroke="#1212e6" stroke-width="1.5"/>
<path d="M1020.30,371.71H1028.50M1024.40,367.61V375.81M1021.50,368.82L1027.30,374.61M1021.50,374.61L1027.30,368.82" stroke="#1212e6" stroke-width="1.5"/>
<rect x="825.30" y="18.30" width="188.50" height="39.40" fill="#ffffff" stroke="#3a3a3a" stroke-width="1.2"/>
<line x1="829.20" y1="29.70" x2="868.20" y2="29.70" stroke="#ee33ee" stroke-width="1.2"/>
<circle cx="848.70" cy="29.70" r="4.0" fill="none" stroke="#ff22ff" stroke-width="1.25"/>
<line x1="829.20" y1="47.50" x2="868.20" y2="47.50" stroke="#2c2cb8" stroke-width="1.25"/>
<path d="M844.60,47.50H852.80M848.70,43.40V51.60M845.80,44.60L851.60,50.40M845.80,50.40L851.60,44.60" stroke="#1212e6" stroke-width="1.5"/>
<text x="871.80" y="33.90" font-size="11.6" fill="#111" stroke="#111" stroke-width="0.3">Weather Relative Humidity</text>
<text x="871.80" y="51.70" font-size="11.6" fill="#111" stroke="#111" stroke-width="0.3">Active Power</text>
<text transform="translate(813.30,420.20) scale(1,1.08)" font-size="14" fill="#262626" text-anchor="middle" stroke="#262626" stroke-width="0.3">Time(15min)</text>
<text transform="translate(575.80,193.45) rotate(-90)" font-size="14" fill="#1b76a6" text-anchor="middle" textLength="217.70" lengthAdjust="spacingAndGlyphs" stroke="#1b76a6" stroke-width="0.3">Weather Relative Humidity (%)</text>
<text transform="translate(1062.00,191.65) rotate(-90)" font-size="14" fill="#d8622c" text-anchor="middle" textLength="133.10" lengthAdjust="spacingAndGlyphs" stroke="#d8622c" stroke-width="0.3">Active Power (kW)</text>
<text x="550.30" y="16.30" font-size="22.4" font-weight="bold" fill="#000">B</text>
<text x="592.30" y="452.90" font-family='"Liberation Serif", serif' font-size="26.3" fill="#111" textLength="454.40" lengthAdjust="spacingAndGlyphs">Correlation curve between weather relative</text>
<text x="661.20" y="483.30" font-family='"Liberation Serif", serif' font-size="26.3" fill="#111" textLength="285.00" lengthAdjust="spacingAndGlyphs">humidity and active power.</text>
<line x1="104.03" y1="514.70" x2="104.03" y2="867.30" stroke="#ededed" stroke-width="1"/>
<line x1="151.07" y1="514.70" x2="151.07" y2="867.30" stroke="#ededed" stroke-width="1"/>
<line x1="198.10" y1="514.70" x2="198.10" y2="867.30" stroke="#ededed" stroke-width="1"/>
<line x1="245.13" y1="514.70" x2="245.13" y2="867.30" stroke="#ededed" stroke-width="1"/>
<line x1="292.17" y1="514.70" x2="292.17" y2="867.30" stroke="#ededed" stroke-width="1"/>
<line x1="339.20" y1="514.70" x2="339.20" y2="867.30" stroke="#ededed" stroke-width="1"/>
<line x1="386.23" y1="514.70" x2="386.23" y2="867.30" stroke="#ededed" stroke-width="1"/>
<line x1="433.27" y1="514.70" x2="433.27" y2="867.30" stroke="#ededed" stroke-width="1"/>
<line x1="57.00" y1="814.41" x2="480.30" y2="814.41" stroke="#ededed" stroke-width="1"/>
<line x1="57.00" y1="761.52" x2="480.30" y2="761.52" stroke="#ededed" stroke-width="1"/>
<line x1="57.00" y1="708.63" x2="480.30" y2="708.63" stroke="#ededed" stroke-width="1"/>
<line x1="57.00" y1="655.74" x2="480.30" y2="655.74" stroke="#ededed" stroke-width="1"/>
<line x1="57.00" y1="602.85" x2="480.30" y2="602.85" stroke="#ededed" stroke-width="1"/>
<line x1="57.00" y1="549.96" x2="480.30" y2="549.96" stroke="#ededed" stroke-width="1"/>
<line x1="57.00" y1="514.70" x2="480.30" y2="514.70" stroke="#333333" stroke-width="1"/>
<line x1="57.00" y1="867.30" x2="480.30" y2="867.30" stroke="#333333" stroke-width="1"/>
<line x1="57.00" y1="867.30" x2="57.00" y2="863.30" stroke="#333333" stroke-width="1"/>
<line x1="57.00" y1="514.70" x2="57.00" y2="518.70" stroke="#333333" stroke-width="1"/>
<text transform="translate(57.00,887.30) scale(1,1.06)" font-size="12.5" fill="#262626" text-anchor="middle" stroke="#262626" stroke-width="0.3">0</text>
<line x1="104.03" y1="867.30" x2="104.03" y2="863.30" stroke="#333333" stroke-width="1"/>
<line x1="104.03" y1="514.70" x2="104.03" y2="518.70" stroke="#333333" stroke-width="1"/>
<text transform="translate(104.03,887.30) scale(1,1.06)" font-size="12.5" fill="#262626" text-anchor="middle" stroke="#262626" stroke-width="0.3">5</text>
<line x1="151.07" y1="867.30" x2="151.07" y2="863.30" stroke="#333333" stroke-width="1"/>
<line x1="151.07" y1="514.70" x2="151.07" y2="518.70" stroke="#333333" stroke-width="1"/>
<text transform="translate(151.07,887.30) scale(1,1.06)" font-size="12.5" fill="#262626" text-anchor="middle" stroke="#262626" stroke-width="0.3">10</text>
<line x1="198.10" y1="867.30" x2="198.10" y2="863.30" stroke="#333333" stroke-width="1"/>
<line x1="198.10" y1="514.70" x2="198.10" y2="518.70" stroke="#333333" stroke-width="1"/>
<text transform="translate(198.10,887.30) scale(1,1.06)" font-size="12.5" fill="#262626" text-anchor="middle" stroke="#262626" stroke-width="0.3">15</text>
<line x1="245.13" y1="867.30" x2="245.13" y2="863.30" stroke="#333333" stroke-width="1"/>
<line x1="245.13" y1="514.70" x2="245.13" y2="518.70" stroke="#333333" stroke-width="1"/>
<text transform="translate(245.13,887.30) scale(1,1.06)" font-size="12.5" fill="#262626" text-anchor="middle" stroke="#262626" stroke-width="0.3">20</text>
<line x1="292.17" y1="867.30" x2="292.17" y2="863.30" stroke="#333333" stroke-width="1"/>
<line x1="292.17" y1="514.70" x2="292.17" y2="518.70" stroke="#333333" stroke-width="1"/>
<text transform="translate(292.17,887.30) scale(1,1.06)" font-size="12.5" fill="#262626" text-anchor="middle" stroke="#262626" stroke-width="0.3">25</text>
<line x1="339.20" y1="867.30" x2="339.20" y2="863.30" stroke="#333333" stroke-width="1"/>
<line x1="339.20" y1="514.70" x2="339.20" y2="518.70" stroke="#333333" stroke-width="1"/>
<text transform="translate(339.20,887.30) scale(1,1.06)" font-size="12.5" fill="#262626" text-anchor="middle" stroke="#262626" stroke-width="0.3">30</text>
<line x1="386.23" y1="867.30" x2="386.23" y2="863.30" stroke="#333333" stroke-width="1"/>
<line x1="386.23" y1="514.70" x2="386.23" y2="518.70" stroke="#333333" stroke-width="1"/>
<text transform="translate(386.23,887.30) scale(1,1.06)" font-size="12.5" fill="#262626" text-anchor="middle" stroke="#262626" stroke-width="0.3">35</text>
<line x1="433.27" y1="867.30" x2="433.27" y2="863.30" stroke="#333333" stroke-width="1"/>
<line x1="433.27" y1="514.70" x2="433.27" y2="518.70" stroke="#333333" stroke-width="1"/>
<text transform="translate(433.27,887.30) scale(1,1.06)" font-size="12.5" fill="#262626" text-anchor="middle" stroke="#262626" stroke-width="0.3">40</text>
<line x1="480.30" y1="867.30" x2="480.30" y2="863.30" stroke="#333333" stroke-width="1"/>
<line x1="480.30" y1="514.70" x2="480.30" y2="518.70" stroke="#333333" stroke-width="1"/>
<text transform="translate(480.30,887.30) scale(1,1.06)" font-size="12.5" fill="#262626" text-anchor="middle" stroke="#262626" stroke-width="0.3">45</text>
<line x1="57.00" y1="514.70" x2="57.00" y2="867.30" stroke="#4a9ec8" stroke-width="1.5"/>
<line x1="57.00" y1="867.30" x2="61.50" y2="867.30" stroke="#1b76a6" stroke-width="1"/>
<line x1="480.30" y1="867.30" x2="475.30" y2="867.30" stroke="#2a7f9a" stroke-width="1"/>
<text transform="translate(50.20,872.80) scale(1,1.15)" font-size="12.5" fill="#1b76a6" text-anchor="end" stroke="#1b76a6" stroke-width="0.3">0</text>
<line x1="57.00" y1="814.41" x2="61.50" y2="814.41" stroke="#1b76a6" stroke-width="1"/>
<line x1="480.30" y1="814.41" x2="475.30" y2="814.41" stroke="#2a7f9a" stroke-width="1"/>
<text transform="translate(50.20,819.91) scale(1,1.15)" font-size="12.5" fill="#1b76a6" text-anchor="end" stroke="#1b76a6" stroke-width="0.3">300</text>
<line x1="57.00" y1="761.52" x2="61.50" y2="761.52" stroke="#1b76a6" stroke-width="1"/>
<line x1="480.30" y1="761.52" x2="475.30" y2="761.52" stroke="#2a7f9a" stroke-width="1"/>
<text transform="translate(50.20,767.02) scale(1,1.15)" font-size="12.5" fill="#1b76a6" text-anchor="end" stroke="#1b76a6" stroke-width="0.3">600</text>
<line x1="57.00" y1="708.63" x2="61.50" y2="708.63" stroke="#1b76a6" stroke-width="1"/>
<line x1="480.30" y1="708.63" x2="475.30" y2="708.63" stroke="#2a7f9a" stroke-width="1"/>
<text transform="translate(50.20,714.13) scale(1,1.15)" font-size="12.5" fill="#1b76a6" text-anchor="end" stroke="#1b76a6" stroke-width="0.3">900</text>
<line x1="57.00" y1="655.74" x2="61.50" y2="655.74" stroke="#1b76a6" stroke-width="1"/>
<line x1="480.30" y1="655.74" x2="475.30" y2="655.74" stroke="#2a7f9a" stroke-width="1"/>
<text transform="translate(50.20,661.24) scale(1,1.15)" font-size="12.5" fill="#1b76a6" text-anchor="end" stroke="#1b76a6" stroke-width="0.3">1200</text>
<line x1="57.00" y1="602.85" x2="61.50" y2="602.85" stroke="#1b76a6" stroke-width="1"/>
<line x1="480.30" y1="602.85" x2="475.30" y2="602.85" stroke="#2a7f9a" stroke-width="1"/>
<text transform="translate(50.20,608.35) scale(1,1.15)" font-size="12.5" fill="#1b76a6" text-anchor="end" stroke="#1b76a6" stroke-width="0.3">1500</text>
<line x1="57.00" y1="549.96" x2="61.50" y2="549.96" stroke="#1b76a6" stroke-width="1"/>
<line x1="480.30" y1="549.96" x2="475.30" y2="549.96" stroke="#2a7f9a" stroke-width="1"/>
<text transform="translate(50.20,555.46) scale(1,1.15)" font-size="12.5" fill="#1b76a6" text-anchor="end" stroke="#1b76a6" stroke-width="0.3">1800</text>
<line x1="480.30" y1="514.70" x2="480.30" y2="867.30" stroke="#de8c72" stroke-width="1.4"/>
<line x1="480.30" y1="867.30" x2="476.30" y2="867.30" stroke="#d8622c" stroke-width="1"/>
<text transform="translate(485.60,872.90) scale(1,1.13)" font-size="12.5" fill="#d8622c" stroke="#d8622c" stroke-width="0.3">0</text>
<line x1="480.30" y1="796.78" x2="476.30" y2="796.78" stroke="#d8622c" stroke-width="1"/>
<text transform="translate(485.60,802.38) scale(1,1.13)" font-size="12.5" fill="#d8622c" stroke="#d8622c" stroke-width="0.3">2</text>
<line x1="480.30" y1="726.26" x2="476.30" y2="726.26" stroke="#d8622c" stroke-width="1"/>
<text transform="translate(485.60,731.86) scale(1,1.13)" font-size="12.5" fill="#d8622c" stroke="#d8622c" stroke-width="0.3">4</text>
<line x1="480.30" y1="655.74" x2="476.30" y2="655.74" stroke="#d8622c" stroke-width="1"/>
<text transform="translate(485.60,661.34) scale(1,1.13)" font-size="12.5" fill="#d8622c" stroke="#d8622c" stroke-width="0.3">6</text>
<line x1="480.30" y1="585.22" x2="476.30" y2="585.22" stroke="#d8622c" stroke-width="1"/>
<text transform="translate(485.60,590.82) scale(1,1.13)" font-size="12.5" fill="#d8622c" stroke="#d8622c" stroke-width="0.3">8</text>
<line x1="480.30" y1="514.70" x2="476.30" y2="514.70" stroke="#d8622c" stroke-width="1"/>
<text transform="translate(485.60,520.30) scale(1,1.13)" font-size="12.5" fill="#d8622c" stroke="#d8622c" stroke-width="0.3">10</text>
<polyline points="66.41,794.31 75.81,782.85 85.22,770.86 94.63,759.93 104.03,748.30 113.44,737.54 122.85,725.91 132.25,713.04 141.66,703.52 151.07,693.29 160.47,684.83 169.88,677.95 179.29,671.61 188.69,665.08 198.10,660.15 207.51,656.97 216.91,655.03 226.32,653.10 235.73,652.39 245.13,652.39 254.54,653.10 263.95,654.15 273.35,656.09 282.76,660.15 292.17,664.38 301.57,667.73 310.98,672.84 320.39,681.30 329.79,688.18 339.20,698.40 348.61,707.92 358.01,718.86 367.42,728.38 376.83,738.07 386.23,748.83 395.64,758.52 405.05,770.86 414.45,781.62 423.86,794.31 433.27,805.77 442.67,817.41 452.08,828.87 461.49,839.80 470.89,858.31" fill="none" stroke="#f2f25a" stroke-width="1.2"/>
<path d="M66.41,789.11L70.21,794.31L66.41,799.51L62.61,794.31Z" fill="none" stroke="#eded3a" stroke-width="1.7"/>
<path d="M75.81,777.65L79.61,782.85L75.81,788.05L72.01,782.85Z" fill="none" stroke="#eded3a" stroke-width="1.7"/>
<path d="M85.22,765.66L89.02,770.86L85.22,776.06L81.42,770.86Z" fill="none" stroke="#eded3a" stroke-width="1.7"/>
<path d="M94.63,754.73L98.43,759.93L94.63,765.13L90.83,759.93Z" fill="none" stroke="#eded3a" stroke-width="1.7"/>
<path d="M104.03,743.10L107.83,748.30L104.03,753.50L100.23,748.30Z" fill="none" stroke="#eded3a" stroke-width="1.7"/>
<path d="M113.44,732.34L117.24,737.54L113.44,742.74L109.64,737.54Z" fill="none" stroke="#eded3a" stroke-width="1.7"/>
<path d="M122.85,720.71L126.65,725.91L122.85,731.11L119.05,725.91Z" fill="none" stroke="#eded3a" stroke-width="1.7"/>
<path d="M132.25,707.84L136.05,713.04L132.25,718.24L128.45,713.04Z" fill="none" stroke="#eded3a" stroke-width="1.7"/>
<path d="M141.66,698.32L145.46,703.52L141.66,708.72L137.86,703.52Z" fill="none" stroke="#eded3a" stroke-width="1.7"/>
<path d="M151.07,688.09L154.87,693.29L151.07,698.49L147.27,693.29Z" fill="none" stroke="#eded3a" stroke-width="1.7"/>
<path d="M160.47,679.63L164.27,684.83L160.47,690.03L156.67,684.83Z" fill="none" stroke="#eded3a" stroke-width="1.7"/>
<path d="M169.88,672.75L173.68,677.95L169.88,683.15L166.08,677.95Z" fill="none" stroke="#eded3a" stroke-width="1.7"/>
<path d="M179.29,666.41L183.09,671.61L179.29,676.81L175.49,671.61Z" fill="none" stroke="#eded3a" stroke-width="1.7"/>
<path d="M188.69,659.88L192.49,665.08L188.69,670.28L184.89,665.08Z" fill="none" stroke="#eded3a" stroke-width="1.7"/>
<path d="M198.10,654.95L201.90,660.15L198.10,665.35L194.30,660.15Z" fill="none" stroke="#eded3a" stroke-width="1.7"/>
<path d="M207.51,651.77L211.31,656.97L207.51,662.17L203.71,656.97Z" fill="none" stroke="#eded3a" stroke-width="1.7"/>
<path d="M216.91,649.83L220.71,655.03L216.91,660.23L213.11,655.03Z" fill="none" stroke="#eded3a" stroke-width="1.7"/>
<path d="M226.32,647.90L230.12,653.10L226.32,658.30L222.52,653.10Z" fill="none" stroke="#eded3a" stroke-width="1.7"/>
<path d="M235.73,647.19L239.53,652.39L235.73,657.59L231.93,652.39Z" fill="none" stroke="#eded3a" stroke-width="1.7"/>
<path d="M245.13,647.19L248.93,652.39L245.13,657.59L241.33,652.39Z" fill="none" stroke="#eded3a" stroke-width="1.7"/>
<path d="M254.54,647.90L258.34,653.10L254.54,658.30L250.74,653.10Z" fill="none" stroke="#eded3a" stroke-width="1.7"/>
<path d="M263.95,648.95L267.75,654.15L263.95,659.35L260.15,654.15Z" fill="none" stroke="#eded3a" stroke-width="1.7"/>
<path d="M273.35,650.89L277.15,656.09L273.35,661.29L269.55,656.09Z" fill="none" stroke="#eded3a" stroke-width="1.7"/>
<path d="M282.76,654.95L286.56,660.15L282.76,665.35L278.96,660.15Z" fill="none" stroke="#eded3a" stroke-width="1.7"/>
<path d="M292.17,659.18L295.97,664.38L292.17,669.58L288.37,664.38Z" fill="none" stroke="#eded3a" stroke-width="1.7"/>
<path d="M301.57,662.53L305.37,667.73L301.57,672.93L297.77,667.73Z" fill="none" stroke="#eded3a" stroke-width="1.7"/>
<path d="M310.98,667.64L314.78,672.84L310.98,678.04L307.18,672.84Z" fill="none" stroke="#eded3a" stroke-width="1.7"/>
<path d="M320.39,676.10L324.19,681.30L320.39,686.50L316.59,681.30Z" fill="none" stroke="#eded3a" stroke-width="1.7"/>
<path d="M329.79,682.98L333.59,688.18L329.79,693.38L325.99,688.18Z" fill="none" stroke="#eded3a" stroke-width="1.7"/>
<path d="M339.20,693.20L343.00,698.40L339.20,703.60L335.40,698.40Z" fill="none" stroke="#eded3a" stroke-width="1.7"/>
<path d="M348.61,702.72L352.41,707.92L348.61,713.12L344.81,707.92Z" fill="none" stroke="#eded3a" stroke-width="1.7"/>
<path d="M358.01,713.66L361.81,718.86L358.01,724.06L354.21,718.86Z" fill="none" stroke="#eded3a" stroke-width="1.7"/>
<path d="M367.42,723.18L371.22,728.38L367.42,733.58L363.62,728.38Z" fill="none" stroke="#eded3a" stroke-width="1.7"/>
<path d="M376.83,732.87L380.63,738.07L376.83,743.27L373.03,738.07Z" fill="none" stroke="#eded3a" stroke-width="1.7"/>
<path d="M386.23,743.63L390.03,748.83L386.23,754.03L382.43,748.83Z" fill="none" stroke="#eded3a" stroke-width="1.7"/>
<path d="M395.64,753.32L399.44,758.52L395.64,763.72L391.84,758.52Z" fill="none" stroke="#eded3a" stroke-width="1.7"/>
<path d="M405.05,765.66L408.85,770.86L405.05,776.06L401.25,770.86Z" fill="none" stroke="#eded3a" stroke-width="1.7"/>
<path d="M414.45,776.42L418.25,781.62L414.45,786.82L410.65,781.62Z" fill="none" stroke="#eded3a" stroke-width="1.7"/>
<path d="M423.86,789.11L427.66,794.31L423.86,799.51L420.06,794.31Z" fill="none" stroke="#eded3a" stroke-width="1.7"/>
<path d="M433.27,800.57L437.07,805.77L433.27,810.97L429.47,805.77Z" fill="none" stroke="#eded3a" stroke-width="1.7"/>
<path d="M442.67,812.21L446.47,817.41L442.67,822.61L438.87,817.41Z" fill="none" stroke="#eded3a" stroke-width="1.7"/>
<path d="M452.08,823.67L455.88,828.87L452.08,834.07L448.28,828.87Z" fill="none" stroke="#eded3a" stroke-width="1.7"/>
<path d="M461.49,834.60L465.29,839.80L461.49,845.00L457.69,839.80Z" fill="none" stroke="#eded3a" stroke-width="1.7"/>
<path d="M470.89,853.11L474.69,858.31L470.89,863.51L467.09,858.31Z" fill="none" stroke="#eded3a" stroke-width="1.7"/>
<polyline points="66.41,691.71 75.81,679.36 85.22,663.85 94.63,651.51 104.03,643.05 113.44,635.64 122.85,629.65 132.25,624.01 141.66,619.07 151.07,612.72 160.47,609.90 169.88,606.73 179.29,602.14 188.69,601.44 198.10,598.97 207.51,600.73 216.91,600.03 226.32,597.56 235.73,600.03 245.13,592.62 254.54,594.04 263.95,595.45 273.35,600.73 282.76,605.32 292.17,607.08 301.57,608.84 310.98,606.02 320.39,610.25 329.79,616.60 339.20,621.19 348.61,619.77 358.01,631.41 367.42,634.94 376.83,640.93 386.23,647.98 395.64,657.50 405.05,668.79 414.45,676.54 423.86,687.83 433.27,698.40 442.67,712.16 452.08,735.43 461.49,786.55 470.89,820.76 480.30,860.95" fill="none" stroke="#2c2cb8" stroke-width="1.25"/>
<path d="M62.31,691.71H70.51M66.41,687.61V695.81M63.51,688.81L69.31,694.60M63.51,694.60L69.31,688.81" stroke="#1212e6" stroke-width="1.5"/>
<path d="M71.71,679.36H79.91M75.81,675.26V683.46M72.91,676.47L78.71,682.26M72.91,682.26L78.71,676.47" stroke="#1212e6" stroke-width="1.5"/>
<path d="M81.12,663.85H89.32M85.22,659.75V667.95M82.32,660.95L88.12,666.75M82.32,666.75L88.12,660.95" stroke="#1212e6" stroke-width="1.5"/>
<path d="M90.53,651.51H98.73M94.63,647.41V655.61M91.73,648.61L97.53,654.41M91.73,654.41L97.53,648.61" stroke="#1212e6" stroke-width="1.5"/>
<path d="M99.93,643.05H108.13M104.03,638.95V647.15M101.13,640.15L106.93,645.95M101.13,645.95L106.93,640.15" stroke="#1212e6" stroke-width="1.5"/>
<path d="M109.34,635.64H117.54M113.44,631.54V639.74M110.54,632.74L116.34,638.54M110.54,638.54L116.34,632.74" stroke="#1212e6" stroke-width="1.5"/>
<path d="M118.75,629.65H126.95M122.85,625.55V633.75M119.95,626.75L125.75,632.55M119.95,632.55L125.75,626.75" stroke="#1212e6" stroke-width="1.5"/>
<path d="M128.15,624.01H136.35M132.25,619.91V628.11M129.35,621.11L135.15,626.91M129.35,626.91L135.15,621.11" stroke="#1212e6" stroke-width="1.5"/>
<path d="M137.56,619.07H145.76M141.66,614.97V623.17M138.76,616.17L144.56,621.97M138.76,621.97L144.56,616.17" stroke="#1212e6" stroke-width="1.5"/>
<path d="M146.97,612.72H155.17M151.07,608.62V616.82M148.17,609.82L153.97,615.62M148.17,615.62L153.97,609.82" stroke="#1212e6" stroke-width="1.5"/>
<path d="M156.37,609.90H164.57M160.47,605.80V614.00M157.57,607.00L163.37,612.80M157.57,612.80L163.37,607.00" stroke="#1212e6" stroke-width="1.5"/>
<path d="M165.78,606.73H173.98M169.88,602.63V610.83M166.98,603.83L172.78,609.63M166.98,609.63L172.78,603.83" stroke="#1212e6" stroke-width="1.5"/>
<path d="M175.19,602.14H183.39M179.29,598.04V606.24M176.39,599.25L182.19,605.04M176.39,605.04L182.19,599.25" stroke="#1212e6" stroke-width="1.5"/>
<path d="M184.59,601.44H192.79M188.69,597.34V605.54M185.79,598.54L191.59,604.34M185.79,604.34L191.59,598.54" stroke="#1212e6" stroke-width="1.5"/>
<path d="M194.00,598.97H202.20M198.10,594.87V603.07M195.20,596.07L201.00,601.87M195.20,601.87L201.00,596.07" stroke="#1212e6" stroke-width="1.5"/>
<path d="M203.41,600.73H211.61M207.51,596.63V604.83M204.61,597.84L210.41,603.63M204.61,603.63L210.41,597.84" stroke="#1212e6" stroke-width="1.5"/>
<path d="M212.81,600.03H221.01M216.91,595.93V604.13M214.01,597.13L219.81,602.93M214.01,602.93L219.81,597.13" stroke="#1212e6" stroke-width="1.5"/>
<path d="M222.22,597.56H230.42M226.32,593.46V601.66M223.42,594.66L229.22,600.46M223.42,600.46L229.22,594.66" stroke="#1212e6" stroke-width="1.5"/>
<path d="M231.63,600.03H239.83M235.73,595.93V604.13M232.83,597.13L238.63,602.93M232.83,602.93L238.63,597.13" stroke="#1212e6" stroke-width="1.5"/>
<path d="M241.03,592.62H249.23M245.13,588.52V596.72M242.23,589.73L248.03,595.52M242.23,595.52L248.03,589.73" stroke="#1212e6" stroke-width="1.5"/>
<path d="M250.44,594.04H258.64M254.54,589.94V598.14M251.64,591.14L257.44,596.93M251.64,596.93L257.44,591.14" stroke="#1212e6" stroke-width="1.5"/>
<path d="M259.85,595.45H268.05M263.95,591.35V599.55M261.05,592.55L266.85,598.34M261.05,598.34L266.85,592.55" stroke="#1212e6" stroke-width="1.5"/>
<path d="M269.25,600.73H277.45M273.35,596.63V604.83M270.45,597.84L276.25,603.63M270.45,603.63L276.25,597.84" stroke="#1212e6" stroke-width="1.5"/>
<path d="M278.66,605.32H286.86M282.76,601.22V609.42M279.86,602.42L285.66,608.22M279.86,608.22L285.66,602.42" stroke="#1212e6" stroke-width="1.5"/>
<path d="M288.07,607.08H296.27M292.17,602.98V611.18M289.27,604.18L295.07,609.98M289.27,609.98L295.07,604.18" stroke="#1212e6" stroke-width="1.5"/>
<path d="M297.47,608.84H305.67M301.57,604.74V612.94M298.67,605.95L304.47,611.74M298.67,611.74L304.47,605.95" stroke="#1212e6" stroke-width="1.5"/>
<path d="M306.88,606.02H315.08M310.98,601.92V610.12M308.08,603.12L313.88,608.92M308.08,608.92L313.88,603.12" stroke="#1212e6" stroke-width="1.5"/>
<path d="M316.29,610.25H324.49M320.39,606.15V614.35M317.49,607.36L323.29,613.15M317.49,613.15L323.29,607.36" stroke="#1212e6" stroke-width="1.5"/>
<path d="M325.69,616.60H333.89M329.79,612.50V620.70M326.89,613.70L332.69,619.50M326.89,619.50L332.69,613.70" stroke="#1212e6" stroke-width="1.5"/>
<path d="M335.10,621.19H343.30M339.20,617.09V625.29M336.30,618.29L342.10,624.08M336.30,624.08L342.10,618.29" stroke="#1212e6" stroke-width="1.5"/>
<path d="M344.51,619.77H352.71M348.61,615.67V623.87M345.71,616.88L351.51,622.67M345.71,622.67L351.51,616.88" stroke="#1212e6" stroke-width="1.5"/>
<path d="M353.91,631.41H362.11M358.01,627.31V635.51M355.11,628.51L360.91,634.31M355.11,634.31L360.91,628.51" stroke="#1212e6" stroke-width="1.5"/>
<path d="M363.32,634.94H371.52M367.42,630.84V639.04M364.52,632.04L370.32,637.84M364.52,637.84L370.32,632.04" stroke="#1212e6" stroke-width="1.5"/>
<path d="M372.73,640.93H380.93M376.83,636.83V645.03M373.93,638.03L379.73,643.83M373.93,643.83L379.73,638.03" stroke="#1212e6" stroke-width="1.5"/>
<path d="M382.13,647.98H390.33M386.23,643.88V652.08M383.33,645.08L389.13,650.88M383.33,650.88L389.13,645.08" stroke="#1212e6" stroke-width="1.5"/>
<path d="M391.54,657.50H399.74M395.64,653.40V661.60M392.74,654.60L398.54,660.40M392.74,660.40L398.54,654.60" stroke="#1212e6" stroke-width="1.5"/>
<path d="M400.95,668.79H409.15M405.05,664.69V672.89M402.15,665.89L407.95,671.69M402.15,671.69L407.95,665.89" stroke="#1212e6" stroke-width="1.5"/>
<path d="M410.35,676.54H418.55M414.45,672.44V680.64M411.55,673.64L417.35,679.44M411.55,679.44L417.35,673.64" stroke="#1212e6" stroke-width="1.5"/>
<path d="M419.76,687.83H427.96M423.86,683.73V691.93M420.96,684.93L426.76,690.73M420.96,690.73L426.76,684.93" stroke="#1212e6" stroke-width="1.5"/>
<path d="M429.17,698.40H437.37M433.27,694.30V702.50M430.37,695.51L436.17,701.30M430.37,701.30L436.17,695.51" stroke="#1212e6" stroke-width="1.5"/>
<path d="M438.57,712.16H446.77M442.67,708.06V716.26M439.77,709.26L445.57,715.06M439.77,715.06L445.57,709.26" stroke="#1212e6" stroke-width="1.5"/>
<path d="M447.98,735.43H456.18M452.08,731.33V739.53M449.18,732.53L454.98,738.33M449.18,738.33L454.98,732.53" stroke="#1212e6" stroke-width="1.5"/>
<path d="M457.39,786.55H465.59M461.49,782.45V790.65M458.59,783.66L464.39,789.45M458.59,789.45L464.39,783.66" stroke="#1212e6" stroke-width="1.5"/>
<path d="M466.79,820.76H474.99M470.89,816.66V824.86M467.99,817.86L473.79,823.66M467.99,823.66L473.79,817.86" stroke="#1212e6" stroke-width="1.5"/>
<path d="M476.20,860.95H484.40M480.30,856.85V865.05M477.40,858.05L483.20,863.85M477.40,863.85L483.20,858.05" stroke="#1212e6" stroke-width="1.5"/>
<rect x="276.50" y="525.80" width="193.10" height="37.50" fill="#ffffff" stroke="#3a3a3a" stroke-width="1.2"/>
<line x1="279.90" y1="536.30" x2="318.90" y2="536.30" stroke="#f2f25a" stroke-width="1.2"/>
<path d="M299.40,531.10L303.20,536.30L299.40,541.50L295.60,536.30Z" fill="none" stroke="#eded3a" stroke-width="1.7"/>
<line x1="279.90" y1="553.50" x2="318.90" y2="553.50" stroke="#2c2cb8" stroke-width="1.25"/>
<path d="M295.30,553.50H303.50M299.40,549.40V557.60M296.50,550.60L302.30,556.40M296.50,556.40L302.30,550.60" stroke="#1212e6" stroke-width="1.5"/>
<text x="322.80" y="540.50" font-size="11.6" fill="#111" stroke="#111" stroke-width="0.3">Global Horizontal Radiation</text>
<text x="322.80" y="557.70" font-size="11.6" fill="#111" stroke="#111" stroke-width="0.3">Active Power</text>
<text transform="translate(267.90,907.20) scale(1,1.06)" font-size="14" fill="#262626" text-anchor="middle" stroke="#262626" stroke-width="0.3">Time(15min)</text>
<text transform="translate(14.60,691.55) rotate(-90)" font-size="14" fill="#1b76a6" text-anchor="middle" textLength="233.90" lengthAdjust="spacingAndGlyphs" stroke="#1b76a6" stroke-width="0.3">Global Horizontal Radiation (w/m<tspan dy="-6" font-size="10">2</tspan><tspan dy="6">)</tspan></text>
<text transform="translate(518.50,691.15) rotate(-90)" font-size="14" fill="#d8622c" text-anchor="middle" textLength="123.90" lengthAdjust="spacingAndGlyphs" stroke="#d8622c" stroke-width="0.3">Active Power (kW)</text>
<text x="-0.10" y="525.60" font-size="22.4" font-weight="bold" fill="#000">C</text>
<text x="42.30" y="939.00" font-family='"Liberation Serif", serif' font-size="26.3" fill="#111" textLength="463.70" lengthAdjust="spacingAndGlyphs">Correlation curve between global horizontal</text>
<text x="116.30" y="968.70" font-family='"Liberation Serif", serif' font-size="26.3" fill="#111" textLength="283.10" lengthAdjust="spacingAndGlyphs">radiation and active power.</text>
<line x1="651.20" y1="514.70" x2="651.20" y2="865.80" stroke="#ededed" stroke-width="1"/>
<line x1="697.70" y1="514.70" x2="697.70" y2="865.80" stroke="#ededed" stroke-width="1"/>
<line x1="744.20" y1="514.70" x2="744.20" y2="865.80" stroke="#ededed" stroke-width="1"/>
<line x1="790.70" y1="514.70" x2="790.70" y2="865.80" stroke="#ededed" stroke-width="1"/>
<line x1="837.20" y1="514.70" x2="837.20" y2="865.80" stroke="#ededed" stroke-width="1"/>
<line x1="883.70" y1="514.70" x2="883.70" y2="865.80" stroke="#ededed" stroke-width="1"/>
<line x1="930.20" y1="514.70" x2="930.20" y2="865.80" stroke="#ededed" stroke-width="1"/>
<line x1="976.70" y1="514.70" x2="976.70" y2="865.80" stroke="#ededed" stroke-width="1"/>
<line x1="604.70" y1="813.13" x2="1023.20" y2="813.13" stroke="#ededed" stroke-width="1"/>
<line x1="604.70" y1="760.47" x2="1023.20" y2="760.47" stroke="#ededed" stroke-width="1"/>
<line x1="604.70" y1="707.80" x2="1023.20" y2="707.80" stroke="#ededed" stroke-width="1"/>
<line x1="604.70" y1="655.14" x2="1023.20" y2="655.14" stroke="#ededed" stroke-width="1"/>
<line x1="604.70" y1="602.48" x2="1023.20" y2="602.48" stroke="#ededed" stroke-width="1"/>
<line x1="604.70" y1="549.81" x2="1023.20" y2="549.81" stroke="#ededed" stroke-width="1"/>
<line x1="604.70" y1="514.70" x2="1023.20" y2="514.70" stroke="#333333" stroke-width="1"/>
<line x1="604.70" y1="865.80" x2="1023.20" y2="865.80" stroke="#333333" stroke-width="1"/>
<line x1="604.70" y1="865.80" x2="604.70" y2="861.80" stroke="#333333" stroke-width="1"/>
<line x1="604.70" y1="514.70" x2="604.70" y2="518.70" stroke="#333333" stroke-width="1"/>
<text transform="translate(604.70,885.80) scale(1,1.06)" font-size="12.5" fill="#262626" text-anchor="middle" stroke="#262626" stroke-width="0.3">0</text>
<line x1="651.20" y1="865.80" x2="651.20" y2="861.80" stroke="#333333" stroke-width="1"/>
<line x1="651.20" y1="514.70" x2="651.20" y2="518.70" stroke="#333333" stroke-width="1"/>
<text transform="translate(651.20,885.80) scale(1,1.06)" font-size="12.5" fill="#262626" text-anchor="middle" stroke="#262626" stroke-width="0.3">5</text>
<line x1="697.70" y1="865.80" x2="697.70" y2="861.80" stroke="#333333" stroke-width="1"/>
<line x1="697.70" y1="514.70" x2="697.70" y2="518.70" stroke="#333333" stroke-width="1"/>
<text transform="translate(697.70,885.80) scale(1,1.06)" font-size="12.5" fill="#262626" text-anchor="middle" stroke="#262626" stroke-width="0.3">10</text>
<line x1="744.20" y1="865.80" x2="744.20" y2="861.80" stroke="#333333" stroke-width="1"/>
<line x1="744.20" y1="514.70" x2="744.20" y2="518.70" stroke="#333333" stroke-width="1"/>
<text transform="translate(744.20,885.80) scale(1,1.06)" font-size="12.5" fill="#262626" text-anchor="middle" stroke="#262626" stroke-width="0.3">15</text>
<line x1="790.70" y1="865.80" x2="790.70" y2="861.80" stroke="#333333" stroke-width="1"/>
<line x1="790.70" y1="514.70" x2="790.70" y2="518.70" stroke="#333333" stroke-width="1"/>
<text transform="translate(790.70,885.80) scale(1,1.06)" font-size="12.5" fill="#262626" text-anchor="middle" stroke="#262626" stroke-width="0.3">20</text>
<line x1="837.20" y1="865.80" x2="837.20" y2="861.80" stroke="#333333" stroke-width="1"/>
<line x1="837.20" y1="514.70" x2="837.20" y2="518.70" stroke="#333333" stroke-width="1"/>
<text transform="translate(837.20,885.80) scale(1,1.06)" font-size="12.5" fill="#262626" text-anchor="middle" stroke="#262626" stroke-width="0.3">25</text>
<line x1="883.70" y1="865.80" x2="883.70" y2="861.80" stroke="#333333" stroke-width="1"/>
<line x1="883.70" y1="514.70" x2="883.70" y2="518.70" stroke="#333333" stroke-width="1"/>
<text transform="translate(883.70,885.80) scale(1,1.06)" font-size="12.5" fill="#262626" text-anchor="middle" stroke="#262626" stroke-width="0.3">30</text>
<line x1="930.20" y1="865.80" x2="930.20" y2="861.80" stroke="#333333" stroke-width="1"/>
<line x1="930.20" y1="514.70" x2="930.20" y2="518.70" stroke="#333333" stroke-width="1"/>
<text transform="translate(930.20,885.80) scale(1,1.06)" font-size="12.5" fill="#262626" text-anchor="middle" stroke="#262626" stroke-width="0.3">35</text>
<line x1="976.70" y1="865.80" x2="976.70" y2="861.80" stroke="#333333" stroke-width="1"/>
<line x1="976.70" y1="514.70" x2="976.70" y2="518.70" stroke="#333333" stroke-width="1"/>
<text transform="translate(976.70,885.80) scale(1,1.06)" font-size="12.5" fill="#262626" text-anchor="middle" stroke="#262626" stroke-width="0.3">40</text>
<line x1="1023.20" y1="865.80" x2="1023.20" y2="861.80" stroke="#333333" stroke-width="1"/>
<line x1="1023.20" y1="514.70" x2="1023.20" y2="518.70" stroke="#333333" stroke-width="1"/>
<text transform="translate(1023.20,885.80) scale(1,1.06)" font-size="12.5" fill="#262626" text-anchor="middle" stroke="#262626" stroke-width="0.3">45</text>
<line x1="604.70" y1="514.70" x2="604.70" y2="865.80" stroke="#4a9ec8" stroke-width="1.5"/>
<line x1="604.70" y1="865.80" x2="609.20" y2="865.80" stroke="#1b76a6" stroke-width="1"/>
<line x1="1023.20" y1="865.80" x2="1018.20" y2="865.80" stroke="#2a7f9a" stroke-width="1"/>
<text transform="translate(597.70,871.30) scale(1,1.15)" font-size="12.5" fill="#1b76a6" text-anchor="end" stroke="#1b76a6" stroke-width="0.3">0</text>
<line x1="604.70" y1="813.13" x2="609.20" y2="813.13" stroke="#1b76a6" stroke-width="1"/>
<line x1="1023.20" y1="813.13" x2="1018.20" y2="813.13" stroke="#2a7f9a" stroke-width="1"/>
<text transform="translate(597.70,818.63) scale(1,1.15)" font-size="12.5" fill="#1b76a6" text-anchor="end" stroke="#1b76a6" stroke-width="0.3">30</text>
<line x1="604.70" y1="760.47" x2="609.20" y2="760.47" stroke="#1b76a6" stroke-width="1"/>
<line x1="1023.20" y1="760.47" x2="1018.20" y2="760.47" stroke="#2a7f9a" stroke-width="1"/>
<text transform="translate(597.70,765.97) scale(1,1.15)" font-size="12.5" fill="#1b76a6" text-anchor="end" stroke="#1b76a6" stroke-width="0.3">60</text>
<line x1="604.70" y1="707.80" x2="609.20" y2="707.80" stroke="#1b76a6" stroke-width="1"/>
<line x1="1023.20" y1="707.80" x2="1018.20" y2="707.80" stroke="#2a7f9a" stroke-width="1"/>
<text transform="translate(597.70,713.30) scale(1,1.15)" font-size="12.5" fill="#1b76a6" text-anchor="end" stroke="#1b76a6" stroke-width="0.3">90</text>
<line x1="604.70" y1="655.14" x2="609.20" y2="655.14" stroke="#1b76a6" stroke-width="1"/>
<line x1="1023.20" y1="655.14" x2="1018.20" y2="655.14" stroke="#2a7f9a" stroke-width="1"/>
<text transform="translate(597.70,660.64) scale(1,1.15)" font-size="12.5" fill="#1b76a6" text-anchor="end" stroke="#1b76a6" stroke-width="0.3">120</text>
<line x1="604.70" y1="602.48" x2="609.20" y2="602.48" stroke="#1b76a6" stroke-width="1"/>
<line x1="1023.20" y1="602.48" x2="1018.20" y2="602.48" stroke="#2a7f9a" stroke-width="1"/>
<text transform="translate(597.70,607.98) scale(1,1.15)" font-size="12.5" fill="#1b76a6" text-anchor="end" stroke="#1b76a6" stroke-width="0.3">150</text>
<line x1="604.70" y1="549.81" x2="609.20" y2="549.81" stroke="#1b76a6" stroke-width="1"/>
<line x1="1023.20" y1="549.81" x2="1018.20" y2="549.81" stroke="#2a7f9a" stroke-width="1"/>
<text transform="translate(597.70,555.31) scale(1,1.15)" font-size="12.5" fill="#1b76a6" text-anchor="end" stroke="#1b76a6" stroke-width="0.3">180</text>
<line x1="1023.20" y1="514.70" x2="1023.20" y2="865.80" stroke="#de8c72" stroke-width="1.4"/>
<line x1="1023.20" y1="865.80" x2="1019.20" y2="865.80" stroke="#d8622c" stroke-width="1"/>
<text transform="translate(1029.10,871.40) scale(1,1.13)" font-size="12.5" fill="#d8622c" stroke="#d8622c" stroke-width="0.3">0</text>
<line x1="1023.20" y1="795.58" x2="1019.20" y2="795.58" stroke="#d8622c" stroke-width="1"/>
<text transform="translate(1029.10,801.18) scale(1,1.13)" font-size="12.5" fill="#d8622c" stroke="#d8622c" stroke-width="0.3">2</text>
<line x1="1023.20" y1="725.36" x2="1019.20" y2="725.36" stroke="#d8622c" stroke-width="1"/>
<text transform="translate(1029.10,730.96) scale(1,1.13)" font-size="12.5" fill="#d8622c" stroke="#d8622c" stroke-width="0.3">4</text>
<line x1="1023.20" y1="655.14" x2="1019.20" y2="655.14" stroke="#d8622c" stroke-width="1"/>
<text transform="translate(1029.10,660.74) scale(1,1.13)" font-size="12.5" fill="#d8622c" stroke="#d8622c" stroke-width="0.3">6</text>
<line x1="1023.20" y1="584.92" x2="1019.20" y2="584.92" stroke="#d8622c" stroke-width="1"/>
<text transform="translate(1029.10,590.52) scale(1,1.13)" font-size="12.5" fill="#d8622c" stroke="#d8622c" stroke-width="0.3">8</text>
<line x1="1023.20" y1="514.70" x2="1019.20" y2="514.70" stroke="#d8622c" stroke-width="1"/>
<text transform="translate(1029.10,520.30) scale(1,1.13)" font-size="12.5" fill="#d8622c" stroke="#d8622c" stroke-width="0.3">10</text>
<polyline points="614.00,796.63 623.30,792.07 632.60,781.54 641.90,781.89 651.20,769.60 660.50,766.61 669.80,753.62 679.10,750.29 688.40,739.40 697.70,729.57 707.00,728.34 716.30,718.16 725.60,715.35 734.90,712.90 744.20,704.47 753.50,711.49 762.80,719.74 772.10,721.85 781.40,719.74 790.70,716.93 800.00,728.34 809.30,728.87 818.60,724.48 827.90,726.59 837.20,710.61 846.50,686.39 855.80,685.16 865.10,700.08 874.40,699.03 883.70,732.73 893.00,733.44 902.30,738.88 911.60,736.95 920.90,740.63 930.20,755.38 939.50,758.36 948.80,767.32 958.10,764.68 967.40,767.84 976.70,779.60 986.00,783.64 995.30,792.60 1004.60,800.85 1013.90,800.32 1023.20,820.86" fill="none" stroke="#22e2e2" stroke-width="1.7"/>
<circle cx="614.00" cy="796.63" r="1.3" fill="#20c4bc"/>
<circle cx="623.30" cy="792.07" r="1.3" fill="#20c4bc"/>
<circle cx="632.60" cy="781.54" r="1.3" fill="#20c4bc"/>
<circle cx="641.90" cy="781.89" r="1.3" fill="#20c4bc"/>
<circle cx="651.20" cy="769.60" r="1.3" fill="#20c4bc"/>
<circle cx="660.50" cy="766.61" r="1.3" fill="#20c4bc"/>
<circle cx="669.80" cy="753.62" r="1.3" fill="#20c4bc"/>
<circle cx="679.10" cy="750.29" r="1.3" fill="#20c4bc"/>
<circle cx="688.40" cy="739.40" r="1.3" fill="#20c4bc"/>
<circle cx="697.70" cy="729.57" r="1.3" fill="#20c4bc"/>
<circle cx="707.00" cy="728.34" r="1.3" fill="#20c4bc"/>
<circle cx="716.30" cy="718.16" r="1.3" fill="#20c4bc"/>
<circle cx="725.60" cy="715.35" r="1.3" fill="#20c4bc"/>
<circle cx="734.90" cy="712.90" r="1.3" fill="#20c4bc"/>
<circle cx="744.20" cy="704.47" r="1.3" fill="#20c4bc"/>
<circle cx="753.50" cy="711.49" r="1.3" fill="#20c4bc"/>
<circle cx="762.80" cy="719.74" r="1.3" fill="#20c4bc"/>
<circle cx="772.10" cy="721.85" r="1.3" fill="#20c4bc"/>
<circle cx="781.40" cy="719.74" r="1.3" fill="#20c4bc"/>
<circle cx="790.70" cy="716.93" r="1.3" fill="#20c4bc"/>
<circle cx="800.00" cy="728.34" r="1.3" fill="#20c4bc"/>
<circle cx="809.30" cy="728.87" r="1.3" fill="#20c4bc"/>
<circle cx="818.60" cy="724.48" r="1.3" fill="#20c4bc"/>
<circle cx="827.90" cy="726.59" r="1.3" fill="#20c4bc"/>
<circle cx="837.20" cy="710.61" r="1.3" fill="#20c4bc"/>
<circle cx="846.50" cy="686.39" r="1.3" fill="#20c4bc"/>
<circle cx="855.80" cy="685.16" r="1.3" fill="#20c4bc"/>
<circle cx="865.10" cy="700.08" r="1.3" fill="#20c4bc"/>
<circle cx="874.40" cy="699.03" r="1.3" fill="#20c4bc"/>
<circle cx="883.70" cy="732.73" r="1.3" fill="#20c4bc"/>
<circle cx="893.00" cy="733.44" r="1.3" fill="#20c4bc"/>
<circle cx="902.30" cy="738.88" r="1.3" fill="#20c4bc"/>
<circle cx="911.60" cy="736.95" r="1.3" fill="#20c4bc"/>
<circle cx="920.90" cy="740.63" r="1.3" fill="#20c4bc"/>
<circle cx="930.20" cy="755.38" r="1.3" fill="#20c4bc"/>
<circle cx="939.50" cy="758.36" r="1.3" fill="#20c4bc"/>
<circle cx="948.80" cy="767.32" r="1.3" fill="#20c4bc"/>
<circle cx="958.10" cy="764.68" r="1.3" fill="#20c4bc"/>
<circle cx="967.40" cy="767.84" r="1.3" fill="#20c4bc"/>
<circle cx="976.70" cy="779.60" r="1.3" fill="#20c4bc"/>
<circle cx="986.00" cy="783.64" r="1.3" fill="#20c4bc"/>
<circle cx="995.30" cy="792.60" r="1.3" fill="#20c4bc"/>
<circle cx="1004.60" cy="800.85" r="1.3" fill="#20c4bc"/>
<circle cx="1013.90" cy="800.32" r="1.3" fill="#20c4bc"/>
<circle cx="1023.20" cy="820.86" r="1.3" fill="#20c4bc"/>
<polyline points="614.00,690.95 623.30,678.66 632.60,663.22 641.90,650.93 651.20,642.50 660.50,635.13 669.80,629.16 679.10,623.54 688.40,618.63 697.70,612.31 707.00,609.50 716.30,606.34 725.60,601.77 734.90,601.07 744.20,598.61 753.50,600.37 762.80,599.67 772.10,597.21 781.40,599.67 790.70,592.29 800.00,593.70 809.30,595.10 818.60,600.37 827.90,604.93 837.20,606.69 846.50,608.44 855.80,605.63 865.10,609.85 874.40,616.17 883.70,620.73 893.00,619.33 902.30,630.91 911.60,634.43 920.90,640.39 930.20,647.42 939.50,656.90 948.80,668.13 958.10,675.85 967.40,687.09 976.70,697.62 986.00,711.32 995.30,734.49 1004.60,785.40 1013.90,819.45 1023.20,859.48" fill="none" stroke="#2c2cb8" stroke-width="1.25"/>
<path d="M609.90,690.95H618.10M614.00,686.85V695.05M611.10,688.05L616.90,693.85M611.10,693.85L616.90,688.05" stroke="#1212e6" stroke-width="1.5"/>
<path d="M619.20,678.66H627.40M623.30,674.56V682.76M620.40,675.76L626.20,681.56M620.40,681.56L626.20,675.76" stroke="#1212e6" stroke-width="1.5"/>
<path d="M628.50,663.22H636.70M632.60,659.12V667.32M629.70,660.32L635.50,666.11M629.70,666.11L635.50,660.32" stroke="#1212e6" stroke-width="1.5"/>
<path d="M637.80,650.93H646.00M641.90,646.83V655.03M639.00,648.03L644.80,653.83M639.00,653.83L644.80,648.03" stroke="#1212e6" stroke-width="1.5"/>
<path d="M647.10,642.50H655.30M651.20,638.40V646.60M648.30,639.60L654.10,645.40M648.30,645.40L654.10,639.60" stroke="#1212e6" stroke-width="1.5"/>
<path d="M656.40,635.13H664.60M660.50,631.03V639.23M657.60,632.23L663.40,638.03M657.60,638.03L663.40,632.23" stroke="#1212e6" stroke-width="1.5"/>
<path d="M665.70,629.16H673.90M669.80,625.06V633.26M666.90,626.26L672.70,632.06M666.90,632.06L672.70,626.26" stroke="#1212e6" stroke-width="1.5"/>
<path d="M675.00,623.54H683.20M679.10,619.44V627.64M676.20,620.64L682.00,626.44M676.20,626.44L682.00,620.64" stroke="#1212e6" stroke-width="1.5"/>
<path d="M684.30,618.63H692.50M688.40,614.53V622.73M685.50,615.73L691.30,621.52M685.50,621.52L691.30,615.73" stroke="#1212e6" stroke-width="1.5"/>
<path d="M693.60,612.31H701.80M697.70,608.21V616.41M694.80,609.41L700.60,615.20M694.80,615.20L700.60,609.41" stroke="#1212e6" stroke-width="1.5"/>
<path d="M702.90,609.50H711.10M707.00,605.40V613.60M704.10,606.60L709.90,612.40M704.10,612.40L709.90,606.60" stroke="#1212e6" stroke-width="1.5"/>
<path d="M712.20,606.34H720.40M716.30,602.24V610.44M713.40,603.44L719.20,609.24M713.40,609.24L719.20,603.44" stroke="#1212e6" stroke-width="1.5"/>
<path d="M721.50,601.77H729.70M725.60,597.67V605.87M722.70,598.87L728.50,604.67M722.70,604.67L728.50,598.87" stroke="#1212e6" stroke-width="1.5"/>
<path d="M730.80,601.07H739.00M734.90,596.97V605.17M732.00,598.17L737.80,603.97M732.00,603.97L737.80,598.17" stroke="#1212e6" stroke-width="1.5"/>
<path d="M740.10,598.61H748.30M744.20,594.51V602.71M741.30,595.71L747.10,601.51M741.30,601.51L747.10,595.71" stroke="#1212e6" stroke-width="1.5"/>
<path d="M749.40,600.37H757.60M753.50,596.27V604.47M750.60,597.47L756.40,603.27M750.60,603.27L756.40,597.47" stroke="#1212e6" stroke-width="1.5"/>
<path d="M758.70,599.67H766.90M762.80,595.57V603.77M759.90,596.77L765.70,602.57M759.90,602.57L765.70,596.77" stroke="#1212e6" stroke-width="1.5"/>
<path d="M768.00,597.21H776.20M772.10,593.11V601.31M769.20,594.31L775.00,600.11M769.20,600.11L775.00,594.31" stroke="#1212e6" stroke-width="1.5"/>
<path d="M777.30,599.67H785.50M781.40,595.57V603.77M778.50,596.77L784.30,602.57M778.50,602.57L784.30,596.77" stroke="#1212e6" stroke-width="1.5"/>
<path d="M786.60,592.29H794.80M790.70,588.19V596.39M787.80,589.39L793.60,595.19M787.80,595.19L793.60,589.39" stroke="#1212e6" stroke-width="1.5"/>
<path d="M795.90,593.70H804.10M800.00,589.60V597.80M797.10,590.80L802.90,596.60M797.10,596.60L802.90,590.80" stroke="#1212e6" stroke-width="1.5"/>
<path d="M805.20,595.10H813.40M809.30,591.00V599.20M806.40,592.20L812.20,598.00M806.40,598.00L812.20,592.20" stroke="#1212e6" stroke-width="1.5"/>
<path d="M814.50,600.37H822.70M818.60,596.27V604.47M815.70,597.47L821.50,603.27M815.70,603.27L821.50,597.47" stroke="#1212e6" stroke-width="1.5"/>
<path d="M823.80,604.93H832.00M827.90,600.83V609.03M825.00,602.03L830.80,607.83M825.00,607.83L830.80,602.03" stroke="#1212e6" stroke-width="1.5"/>
<path d="M833.10,606.69H841.30M837.20,602.59V610.79M834.30,603.79L840.10,609.59M834.30,609.59L840.10,603.79" stroke="#1212e6" stroke-width="1.5"/>
<path d="M842.40,608.44H850.60M846.50,604.34V612.54M843.60,605.54L849.40,611.34M843.60,611.34L849.40,605.54" stroke="#1212e6" stroke-width="1.5"/>
<path d="M851.70,605.63H859.90M855.80,601.53V609.73M852.90,602.74L858.70,608.53M852.90,608.53L858.70,602.74" stroke="#1212e6" stroke-width="1.5"/>
<path d="M861.00,609.85H869.20M865.10,605.75V613.95M862.20,606.95L868.00,612.75M862.20,612.75L868.00,606.95" stroke="#1212e6" stroke-width="1.5"/>
<path d="M870.30,616.17H878.50M874.40,612.07V620.27M871.50,613.27L877.30,619.07M871.50,619.07L877.30,613.27" stroke="#1212e6" stroke-width="1.5"/>
<path d="M879.60,620.73H887.80M883.70,616.63V624.83M880.80,617.83L886.60,623.63M880.80,623.63L886.60,617.83" stroke="#1212e6" stroke-width="1.5"/>
<path d="M888.90,619.33H897.10M893.00,615.23V623.43M890.10,616.43L895.90,622.23M890.10,622.23L895.90,616.43" stroke="#1212e6" stroke-width="1.5"/>
<path d="M898.20,630.91H906.40M902.30,626.81V635.01M899.40,628.01L905.20,633.81M899.40,633.81L905.20,628.01" stroke="#1212e6" stroke-width="1.5"/>
<path d="M907.50,634.43H915.70M911.60,630.33V638.53M908.70,631.53L914.50,637.32M908.70,637.32L914.50,631.53" stroke="#1212e6" stroke-width="1.5"/>
<path d="M916.80,640.39H925.00M920.90,636.29V644.49M918.00,637.49L923.80,643.29M918.00,643.29L923.80,637.49" stroke="#1212e6" stroke-width="1.5"/>
<path d="M926.10,647.42H934.30M930.20,643.32V651.52M927.30,644.52L933.10,650.31M927.30,650.31L933.10,644.52" stroke="#1212e6" stroke-width="1.5"/>
<path d="M935.40,656.90H943.60M939.50,652.80V661.00M936.60,654.00L942.40,659.79M936.60,659.79L942.40,654.00" stroke="#1212e6" stroke-width="1.5"/>
<path d="M944.70,668.13H952.90M948.80,664.03V672.23M945.90,665.23L951.70,671.03M945.90,671.03L951.70,665.23" stroke="#1212e6" stroke-width="1.5"/>
<path d="M954.00,675.85H962.20M958.10,671.75V679.95M955.20,672.96L961.00,678.75M955.20,678.75L961.00,672.96" stroke="#1212e6" stroke-width="1.5"/>
<path d="M963.30,687.09H971.50M967.40,682.99V691.19M964.50,684.19L970.30,689.99M964.50,689.99L970.30,684.19" stroke="#1212e6" stroke-width="1.5"/>
<path d="M972.60,697.62H980.80M976.70,693.52V701.72M973.80,694.72L979.60,700.52M973.80,700.52L979.60,694.72" stroke="#1212e6" stroke-width="1.5"/>
<path d="M981.90,711.32H990.10M986.00,707.22V715.42M983.10,708.42L988.90,714.22M983.10,714.22L988.90,708.42" stroke="#1212e6" stroke-width="1.5"/>
<path d="M991.20,734.49H999.40M995.30,730.39V738.59M992.40,731.59L998.20,737.39M992.40,737.39L998.20,731.59" stroke="#1212e6" stroke-width="1.5"/>
<path d="M1000.50,785.40H1008.70M1004.60,781.30V789.50M1001.70,782.50L1007.50,788.30M1001.70,788.30L1007.50,782.50" stroke="#1212e6" stroke-width="1.5"/>
<path d="M1009.80,819.45H1018.00M1013.90,815.35V823.55M1011.00,816.56L1016.80,822.35M1011.00,822.35L1016.80,816.56" stroke="#1212e6" stroke-width="1.5"/>
<path d="M1019.10,859.48H1027.30M1023.20,855.38V863.58M1020.30,856.58L1026.10,862.38M1020.30,862.38L1026.10,856.58" stroke="#1212e6" stroke-width="1.5"/>
<rect x="819.50" y="525.80" width="193.20" height="36.90" fill="#ffffff" stroke="#3a3a3a" stroke-width="1.2"/>
<line x1="823.40" y1="535.70" x2="861.70" y2="535.70" stroke="#22e2e2" stroke-width="1.2"/>
<circle cx="842.55" cy="535.70" r="1.3" fill="#20c4bc"/>
<line x1="823.40" y1="552.50" x2="861.70" y2="552.50" stroke="#2c2cb8" stroke-width="1.25"/>
<path d="M838.45,552.50H846.65M842.55,548.40V556.60M839.65,549.60L845.45,555.40M839.65,555.40L845.45,549.60" stroke="#1212e6" stroke-width="1.5"/>
<text x="865.60" y="539.90" font-size="11.6" fill="#111" stroke="#111" stroke-width="0.3">Diffuse Horizontal Radiation</text>
<text x="865.60" y="556.70" font-size="11.6" fill="#111" stroke="#111" stroke-width="0.3">Active Power</text>
<text transform="translate(813.50,905.40) scale(1,1.06)" font-size="14" fill="#262626" text-anchor="middle" stroke="#262626" stroke-width="0.3">Time(15min)</text>
<text transform="translate(570.00,689.60) rotate(-90)" font-size="14" fill="#1b76a6" text-anchor="middle" textLength="235.60" lengthAdjust="spacingAndGlyphs" stroke="#1b76a6" stroke-width="0.3">Diffuse Horizontal Radiation (w/m<tspan dy="-6" font-size="10">2</tspan><tspan dy="6">)</tspan></text>
<text transform="translate(1060.80,690.25) rotate(-90)" font-size="14" fill="#d8622c" text-anchor="middle" textLength="123.90" lengthAdjust="spacingAndGlyphs" stroke="#d8622c" stroke-width="0.3">Active Power (kW)</text>
<text x="550.00" y="525.50" font-size="22.4" font-weight="bold" fill="#000">D</text>
<text x="584.50" y="939.00" font-family='"Liberation Serif", serif' font-size="26.3" fill="#111" textLength="470.60" lengthAdjust="spacingAndGlyphs">Correlation curve between diffuse horizontal</text>
<text x="661.50" y="969.20" font-family='"Liberation Serif", serif' font-size="26.3" fill="#111" textLength="283.80" lengthAdjust="spacingAndGlyphs">radiation and active power.</text>
</svg>
</body></html>
